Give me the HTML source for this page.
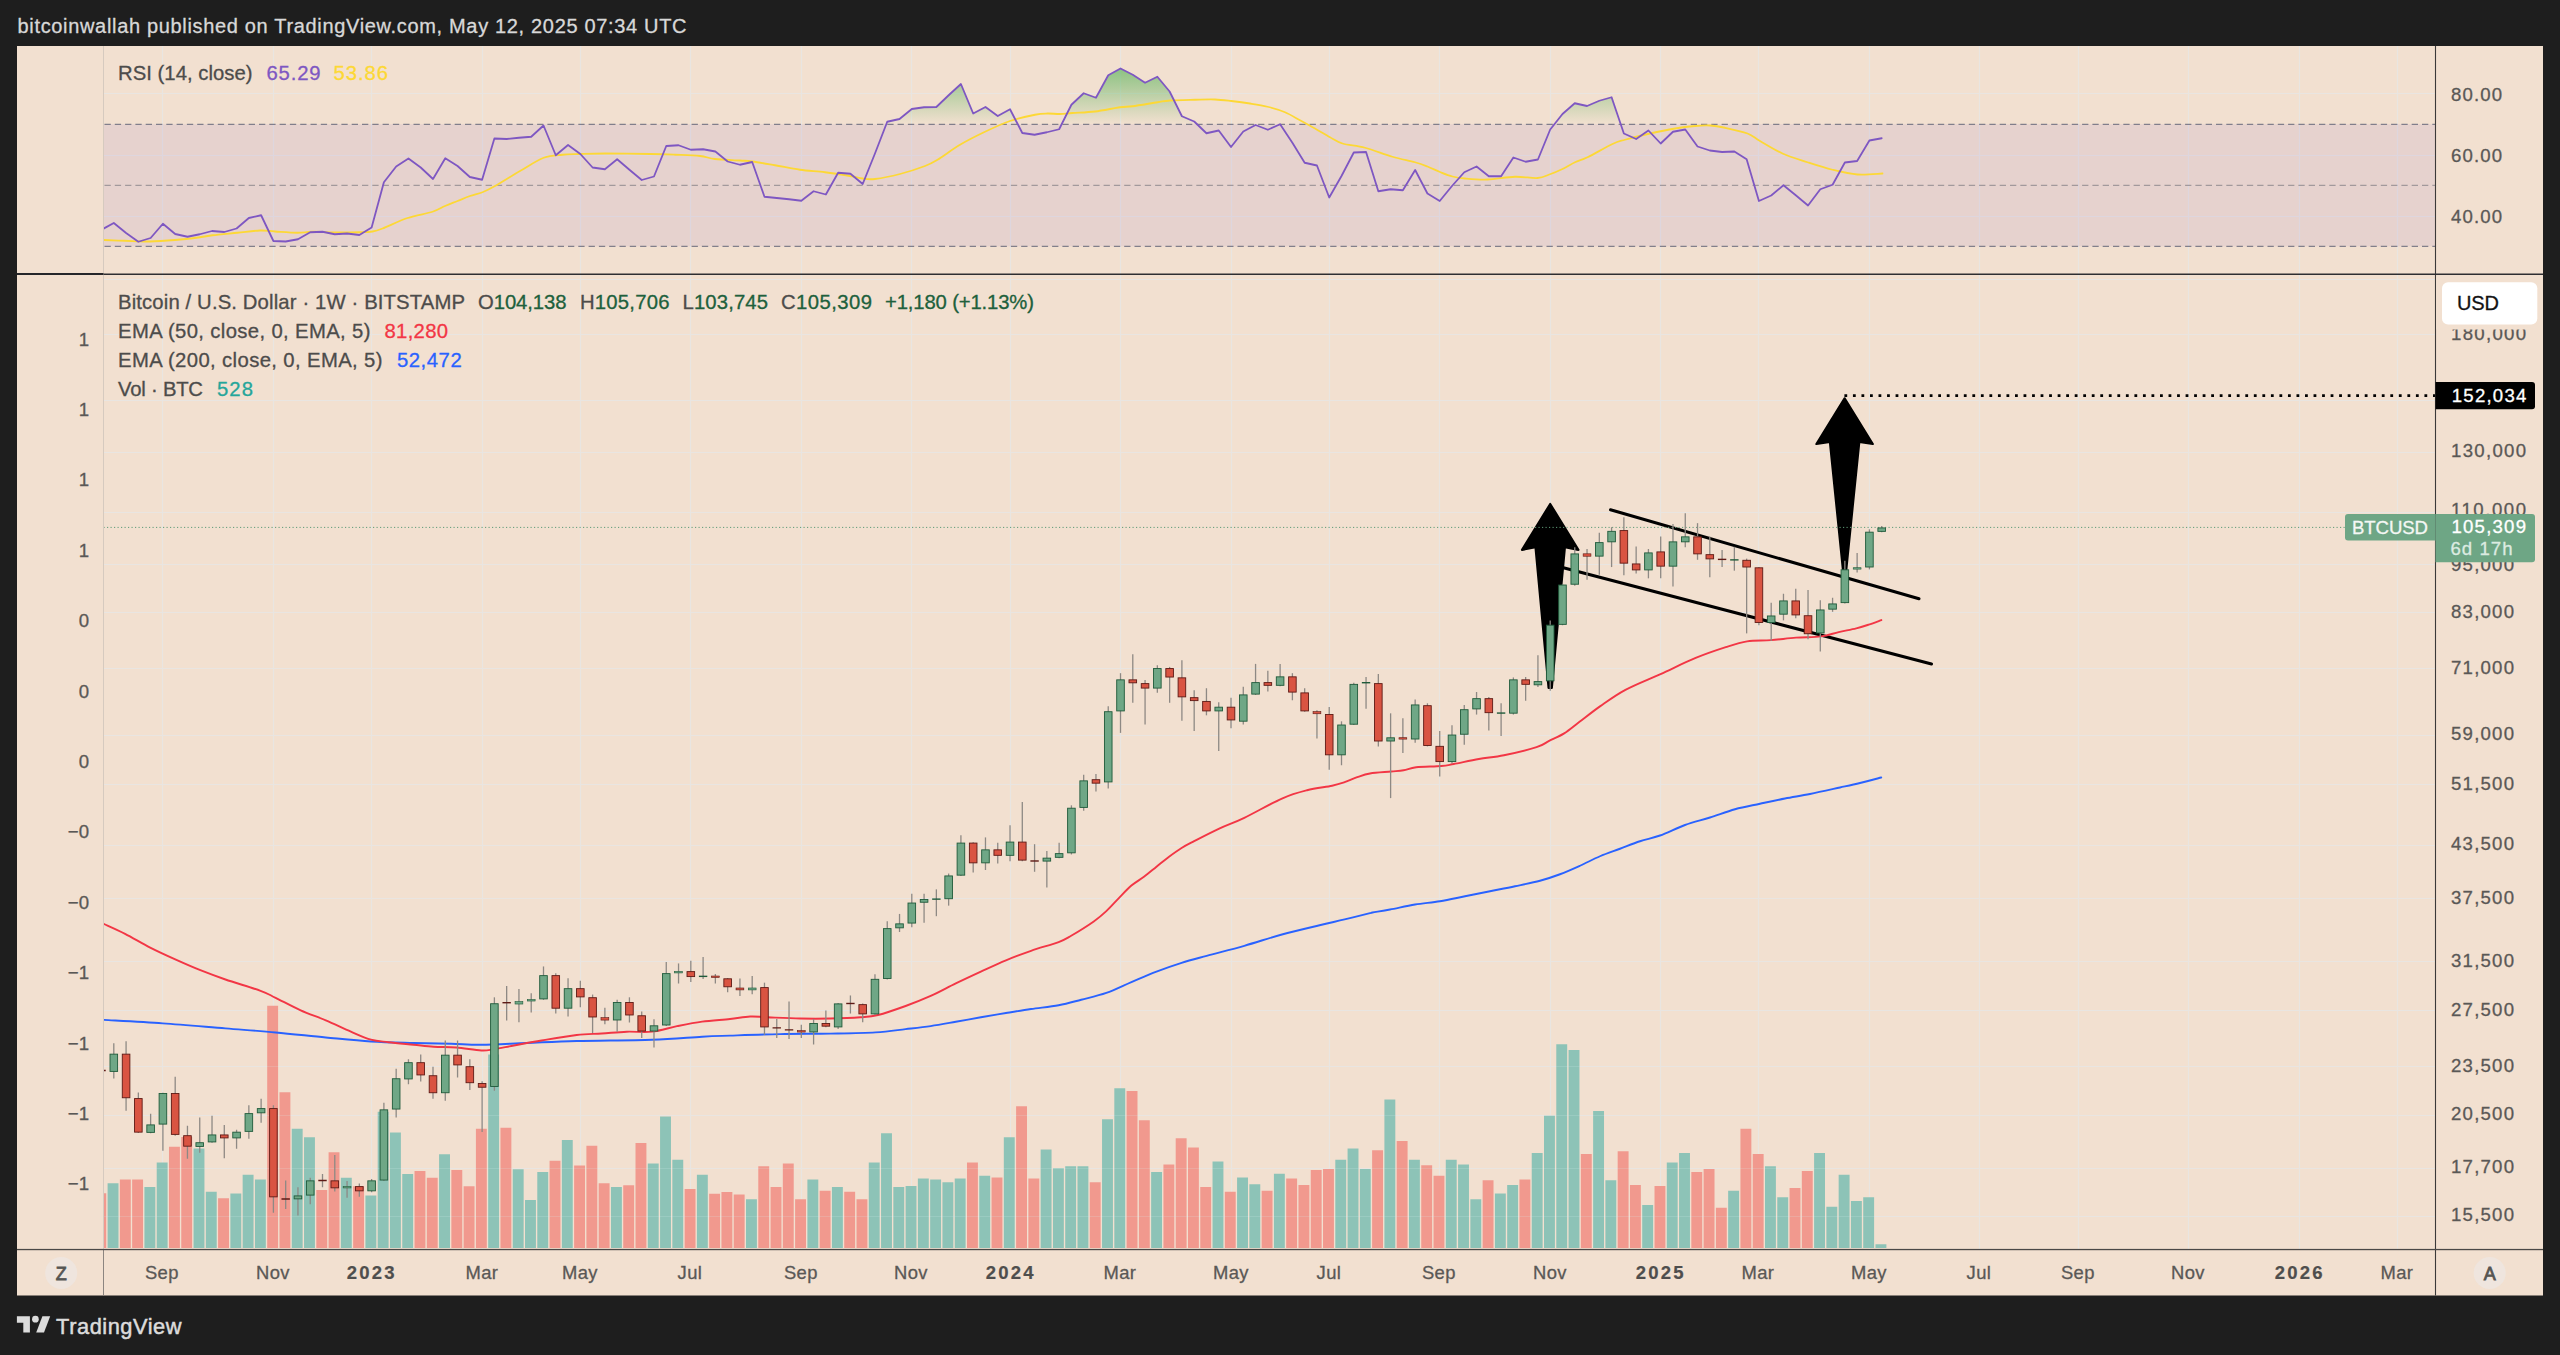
<!DOCTYPE html><html><head><meta charset="utf-8"><title>BTCUSD chart</title><style>html,body{margin:0;padding:0;background:#1e1e1e;overflow:hidden}svg{display:block}</style></head><body><svg width="2560" height="1355" viewBox="0 0 2560 1355"><rect x="0" y="0" width="2560" height="1355" fill="#1e1e1e"/>
<rect x="17" y="46" width="2526" height="1249.5" fill="#f2e0d0"/>
<g stroke="#e9e5e1" stroke-width="1.2" fill="none">
<path d="M162.5 46 V1249.5"/>
<path d="M273.5 46 V1249.5"/>
<path d="M371.5 46 V1249.5"/>
<path d="M482.5 46 V1249.5"/>
<path d="M580.5 46 V1249.5"/>
<path d="M690.5 46 V1249.5"/>
<path d="M801.5 46 V1249.5"/>
<path d="M911.5 46 V1249.5"/>
<path d="M1010.5 46 V1249.5"/>
<path d="M1120.5 46 V1249.5"/>
<path d="M1231.5 46 V1249.5"/>
<path d="M1329.5 46 V1249.5"/>
<path d="M1439.5 46 V1249.5"/>
<path d="M1550.5 46 V1249.5"/>
<path d="M1660.5 46 V1249.5"/>
<path d="M1758.5 46 V1249.5"/>
<path d="M1869.5 46 V1249.5"/>
<path d="M1979.5 46 V1249.5"/>
<path d="M2078.5 46 V1249.5"/>
<path d="M2188.5 46 V1249.5"/>
<path d="M2299.5 46 V1249.5"/>
<path d="M2397.5 46 V1249.5"/>
<path d="M103.5 93.5 H2435.5"/>
<path d="M103.5 155.5 H2435.5"/>
<path d="M103.5 216.5 H2435.5"/>
<path d="M103.5 279.5 H2435.5"/>
<path d="M103.5 334.5 H2435.5"/>
<path d="M103.5 400.5 H2435.5"/>
<path d="M103.5 452.5 H2435.5"/>
<path d="M103.5 512.5 H2435.5"/>
<path d="M103.5 564.5 H2435.5"/>
<path d="M103.5 612.5 H2435.5"/>
<path d="M103.5 668.5 H2435.5"/>
<path d="M103.5 735.5 H2435.5"/>
<path d="M103.5 784.5 H2435.5"/>
<path d="M103.5 845.5 H2435.5"/>
<path d="M103.5 898.5 H2435.5"/>
<path d="M103.5 961.5 H2435.5"/>
<path d="M103.5 1010.5 H2435.5"/>
<path d="M103.5 1066.5 H2435.5"/>
<path d="M103.5 1115.5 H2435.5"/>
<path d="M103.5 1168.5 H2435.5"/>
<path d="M103.5 1216.5 H2435.5"/>
</g>
<rect x="103.5" y="124.3" width="2332" height="122" fill="rgba(126,87,194,0.10)"/>
<defs><linearGradient id="ob" gradientUnits="userSpaceOnUse" x1="0" y1="56" x2="0" y2="124.3"><stop offset="0" stop-color="#4caf50" stop-opacity="0.75"/><stop offset="1" stop-color="#4caf50" stop-opacity="0"/></linearGradient>
<clipPath id="cob"><rect x="103.5" y="46" width="2332" height="78.3"/></clipPath>
<clipPath id="cpr"><rect x="104" y="46" width="2331" height="228.2"/></clipPath>
<clipPath id="cpm"><rect x="104" y="274.2" width="2331" height="975.3"/></clipPath></defs>
<path d="M101.52 124.3 L101.52 229.75 L113.8 223 L126.08 233 L138.35 241.75 L150.63 238 L162.91 223.75 L175.19 234 L187.46 236.75 L199.74 234.25 L212.02 231 L224.29 232 L236.57 228.5 L248.85 218 L261.12 215.25 L273.4 241 L285.68 241.5 L297.95 239.25 L310.23 232.25 L322.51 231.75 L334.79 234.25 L347.06 233.5 L359.34 235 L371.62 227.5 L383.89 182.25 L396.17 166.5 L408.45 158.5 L420.72 167.5 L433 179 L445.28 158.25 L457.56 166 L469.83 177 L482.11 179.75 L494.39 138.5 L506.66 139 L518.94 137.75 L531.22 136.75 L543.5 125.5 L555.77 155.25 L568.05 145 L580.33 154 L592.6 167.5 L604.88 169.25 L617.16 159.25 L629.43 169.75 L641.71 180 L653.99 176.5 L666.26 146 L678.54 145.25 L690.82 149.75 L703.1 149.25 L715.37 151.5 L727.65 161.5 L739.93 164.75 L752.2 162 L764.48 196.75 L776.76 198 L789.03 199.25 L801.31 200.75 L813.59 191.25 L825.87 194.5 L838.14 172.75 L850.42 173.75 L862.7 184 L874.97 153.5 L887.25 121.75 L899.53 119 L911.8 109 L924.08 107.25 L936.36 107 L948.64 95.25 L960.91 84 L973.19 113.5 L985.47 107 L997.74 116 L1010.02 109.25 L1022.3 133 L1034.58 134.75 L1046.85 132.25 L1059.13 129.25 L1071.41 104.75 L1083.68 93.25 L1095.96 97.75 L1108.24 75.25 L1120.51 68.5 L1132.79 74.75 L1145.07 82.75 L1157.34 76.75 L1169.62 91.5 L1181.9 116.25 L1194.18 121.5 L1206.45 133.25 L1218.73 130.5 L1231.01 147 L1243.28 131.5 L1255.56 125 L1267.84 129.75 L1280.11 124.25 L1292.39 142.75 L1304.67 162.75 L1316.95 165.5 L1329.22 197.5 L1341.5 176 L1353.78 152.5 L1366.05 152 L1378.33 191.25 L1390.61 189.25 L1402.88 190.25 L1415.16 170 L1427.44 193.5 L1439.72 201 L1451.99 186 L1464.27 172.25 L1476.55 166.5 L1488.82 176.25 L1501.1 176.25 L1513.38 157.5 L1525.65 161.75 L1537.93 159.5 L1550.21 129.5 L1562.49 114 L1574.76 103.25 L1587.04 106 L1599.32 100.75 L1611.59 97.25 L1623.87 133.5 L1636.15 139 L1648.42 130.5 L1660.7 143.5 L1672.98 131.75 L1685.26 129.5 L1697.53 146.5 L1709.81 150.5 L1722.09 152 L1734.36 151.5 L1746.64 159.25 L1758.92 201 L1771.19 195.5 L1783.47 185.25 L1795.75 195.25 L1808.03 205.5 L1820.3 189.25 L1832.58 184.75 L1844.86 162.5 L1857.13 161 L1869.41 140.5 L1881.69 138.25 L1881.69 124.3 Z" fill="url(#ob)" clip-path="url(#cob)"/>
<path d="M104.5 124.3 H2435.5" stroke="#67687a" stroke-width="1" stroke-dasharray="6.3 4" fill="none"/>
<path d="M104.5 185.3 H2435.5" stroke="#918b90" stroke-width="1" stroke-dasharray="6.3 4" fill="none"/>
<path d="M104.5 246.3 H2435.5" stroke="#67687a" stroke-width="1" stroke-dasharray="6.3 4" fill="none"/>
<g clip-path="url(#cpr)" fill="none" stroke-linejoin="round" stroke-linecap="round">
<path d="M103.5 240 C107.08 240.12 117.25 240.5 125 240.75 C132.75 241 141.67 241.62 150 241.5 C158.33 241.38 166.67 240.71 175 240 C183.33 239.29 193.75 238.04 200 237.25 C206.25 236.46 206.25 236 212.5 235.25 C218.75 234.5 229.58 233.54 237.5 232.75 C245.42 231.96 253.75 230.71 260 230.5 C266.25 230.29 268.75 231.12 275 231.5 C281.25 231.88 291.25 232.71 297.5 232.75 C303.75 232.79 305.83 231.79 312.5 231.75 C319.17 231.71 329.58 232.42 337.5 232.5 C345.42 232.58 354.17 232.42 360 232.25 C365.83 232.08 368.75 232.12 372.5 231.5 C376.25 230.88 376.67 230.75 382.5 228.5 C388.33 226.25 399.17 220.79 407.5 218 C415.83 215.21 426.25 213.75 432.5 211.75 C438.75 209.75 440.83 207.79 445 206 C449.17 204.21 453.33 202.67 457.5 201 C461.67 199.33 465.83 197.46 470 196 C474.17 194.54 478.33 193.92 482.5 192.25 C486.67 190.58 488.75 189.54 495 186 C501.25 182.46 511.88 175.71 520 171 C528.12 166.29 536.67 160.46 543.75 157.75 C550.83 155.04 556.46 155.38 562.5 154.75 C568.54 154.12 572.92 154.21 580 154 C587.08 153.79 593.33 153.5 605 153.5 C616.67 153.5 638.33 153.79 650 154 C661.67 154.21 666.67 154.42 675 154.75 C683.33 155.08 693.33 155.29 700 156 C706.67 156.71 708.33 158.25 715 159 C721.67 159.75 733.75 160.08 740 160.5 C746.25 160.92 746.67 160.71 752.5 161.5 C758.33 162.29 767.08 163.88 775 165.25 C782.92 166.62 791.67 168.58 800 169.75 C808.33 170.92 816.67 171.21 825 172.25 C833.33 173.29 843.75 174.96 850 176 C856.25 177.04 858.33 178 862.5 178.5 C866.67 179 868.75 179.75 875 179 C881.25 178.25 891.67 176.17 900 174 C908.33 171.83 918.75 168.38 925 166 C931.25 163.62 931.67 163.29 937.5 159.75 C943.33 156.21 952.08 149.42 960 144.75 C967.92 140.08 976.67 135.71 985 131.75 C993.33 127.79 1001.67 123.83 1010 121 C1018.33 118.17 1028.75 116 1035 114.75 C1041.25 113.5 1043.33 113.62 1047.5 113.5 C1051.67 113.38 1055.83 114.08 1060 114 C1064.17 113.92 1066.67 113.42 1072.5 113 C1078.33 112.58 1087.08 112.46 1095 111.5 C1102.92 110.54 1113.75 108.12 1120 107.25 C1126.25 106.38 1126.25 107.08 1132.5 106.25 C1138.75 105.42 1151.25 103.21 1157.5 102.25 C1163.75 101.29 1163.75 100.92 1170 100.5 C1176.25 100.08 1187.5 99.92 1195 99.75 C1202.5 99.58 1208.96 99.29 1215 99.5 C1221.04 99.71 1225.42 100.33 1231.25 101 C1237.08 101.67 1243.96 102.54 1250 103.5 C1256.04 104.46 1261.67 105.29 1267.5 106.75 C1273.33 108.21 1279.58 110 1285 112.25 C1290.42 114.5 1295 117.54 1300 120.25 C1305 122.96 1310 125.67 1315 128.5 C1320 131.33 1325.42 134.75 1330 137.25 C1334.58 139.75 1336.67 141.75 1342.5 143.5 C1348.33 145.25 1356.67 145.54 1365 147.75 C1373.33 149.96 1384.17 154.33 1392.5 156.75 C1400.83 159.17 1409.17 160.62 1415 162.25 C1420.83 163.88 1423.33 164.88 1427.5 166.5 C1431.67 168.12 1435.83 170.33 1440 172 C1444.17 173.67 1448.33 175.42 1452.5 176.5 C1456.67 177.58 1459.17 178 1465 178.5 C1470.83 179 1479.17 179.79 1487.5 179.5 C1495.83 179.21 1506.67 177 1515 176.75 C1523.33 176.5 1531.67 178.42 1537.5 178 C1543.33 177.58 1545.83 175.75 1550 174.25 C1554.17 172.75 1558.33 171 1562.5 169 C1566.67 167 1570.83 164.21 1575 162.25 C1579.17 160.29 1581.25 160.29 1587.5 157.25 C1593.75 154.21 1606.25 146.92 1612.5 144 C1618.75 141.08 1618.75 141.5 1625 139.75 C1631.25 138 1641.67 135.38 1650 133.5 C1658.33 131.62 1667.5 129.75 1675 128.5 C1682.5 127.25 1689.17 126.5 1695 126 C1700.83 125.5 1705 125.21 1710 125.5 C1715 125.79 1718.75 126.42 1725 127.75 C1731.25 129.08 1741.67 131.29 1747.5 133.5 C1753.33 135.71 1754.17 137.67 1760 141 C1765.83 144.33 1774.58 149.96 1782.5 153.5 C1790.42 157.04 1799.17 159.54 1807.5 162.25 C1815.83 164.96 1824.17 167.71 1832.5 169.75 C1840.83 171.79 1849.17 173.88 1857.5 174.5 C1865.83 175.12 1878.33 173.67 1882.5 173.5" stroke="#fdd835" stroke-width="1.8"/>
<path d="M101.52 229.75 L113.8 223 L126.08 233 L138.35 241.75 L150.63 238 L162.91 223.75 L175.19 234 L187.46 236.75 L199.74 234.25 L212.02 231 L224.29 232 L236.57 228.5 L248.85 218 L261.12 215.25 L273.4 241 L285.68 241.5 L297.95 239.25 L310.23 232.25 L322.51 231.75 L334.79 234.25 L347.06 233.5 L359.34 235 L371.62 227.5 L383.89 182.25 L396.17 166.5 L408.45 158.5 L420.72 167.5 L433 179 L445.28 158.25 L457.56 166 L469.83 177 L482.11 179.75 L494.39 138.5 L506.66 139 L518.94 137.75 L531.22 136.75 L543.5 125.5 L555.77 155.25 L568.05 145 L580.33 154 L592.6 167.5 L604.88 169.25 L617.16 159.25 L629.43 169.75 L641.71 180 L653.99 176.5 L666.26 146 L678.54 145.25 L690.82 149.75 L703.1 149.25 L715.37 151.5 L727.65 161.5 L739.93 164.75 L752.2 162 L764.48 196.75 L776.76 198 L789.03 199.25 L801.31 200.75 L813.59 191.25 L825.87 194.5 L838.14 172.75 L850.42 173.75 L862.7 184 L874.97 153.5 L887.25 121.75 L899.53 119 L911.8 109 L924.08 107.25 L936.36 107 L948.64 95.25 L960.91 84 L973.19 113.5 L985.47 107 L997.74 116 L1010.02 109.25 L1022.3 133 L1034.58 134.75 L1046.85 132.25 L1059.13 129.25 L1071.41 104.75 L1083.68 93.25 L1095.96 97.75 L1108.24 75.25 L1120.51 68.5 L1132.79 74.75 L1145.07 82.75 L1157.34 76.75 L1169.62 91.5 L1181.9 116.25 L1194.18 121.5 L1206.45 133.25 L1218.73 130.5 L1231.01 147 L1243.28 131.5 L1255.56 125 L1267.84 129.75 L1280.11 124.25 L1292.39 142.75 L1304.67 162.75 L1316.95 165.5 L1329.22 197.5 L1341.5 176 L1353.78 152.5 L1366.05 152 L1378.33 191.25 L1390.61 189.25 L1402.88 190.25 L1415.16 170 L1427.44 193.5 L1439.72 201 L1451.99 186 L1464.27 172.25 L1476.55 166.5 L1488.82 176.25 L1501.1 176.25 L1513.38 157.5 L1525.65 161.75 L1537.93 159.5 L1550.21 129.5 L1562.49 114 L1574.76 103.25 L1587.04 106 L1599.32 100.75 L1611.59 97.25 L1623.87 133.5 L1636.15 139 L1648.42 130.5 L1660.7 143.5 L1672.98 131.75 L1685.26 129.5 L1697.53 146.5 L1709.81 150.5 L1722.09 152 L1734.36 151.5 L1746.64 159.25 L1758.92 201 L1771.19 195.5 L1783.47 185.25 L1795.75 195.25 L1808.03 205.5 L1820.3 189.25 L1832.58 184.75 L1844.86 162.5 L1857.13 161 L1869.41 140.5 L1881.69 138.25" stroke="#7e57c2" stroke-width="1.8"/>
</g>
<g clip-path="url(#cpm)">
<rect x="95.32" y="1193.25" width="10.9" height="54.75" fill="#f1998e"/>
<rect x="107.6" y="1183.25" width="10.9" height="64.75" fill="#8dc3b7"/>
<rect x="119.88" y="1179.5" width="10.9" height="68.5" fill="#f1998e"/>
<rect x="132.15" y="1179.5" width="10.9" height="68.5" fill="#f1998e"/>
<rect x="144.43" y="1187" width="10.9" height="61" fill="#8dc3b7"/>
<rect x="156.71" y="1162.5" width="10.9" height="85.5" fill="#8dc3b7"/>
<rect x="168.99" y="1146.75" width="10.9" height="101.25" fill="#f1998e"/>
<rect x="181.26" y="1137" width="10.9" height="111" fill="#f1998e"/>
<rect x="193.54" y="1148.5" width="10.9" height="99.5" fill="#8dc3b7"/>
<rect x="205.82" y="1191.75" width="10.9" height="56.25" fill="#8dc3b7"/>
<rect x="218.09" y="1198.25" width="10.9" height="49.75" fill="#f1998e"/>
<rect x="230.37" y="1193.5" width="10.9" height="54.5" fill="#8dc3b7"/>
<rect x="242.65" y="1174.75" width="10.9" height="73.25" fill="#8dc3b7"/>
<rect x="254.92" y="1179.5" width="10.9" height="68.5" fill="#8dc3b7"/>
<rect x="267.2" y="1005.75" width="10.9" height="242.25" fill="#f1998e"/>
<rect x="279.48" y="1092.25" width="10.9" height="155.75" fill="#f1998e"/>
<rect x="291.75" y="1128.75" width="10.9" height="119.25" fill="#8dc3b7"/>
<rect x="304.03" y="1137.25" width="10.9" height="110.75" fill="#8dc3b7"/>
<rect x="316.31" y="1190" width="10.9" height="58" fill="#f1998e"/>
<rect x="328.59" y="1152.25" width="10.9" height="95.75" fill="#f1998e"/>
<rect x="340.86" y="1177.75" width="10.9" height="70.25" fill="#8dc3b7"/>
<rect x="353.14" y="1186.25" width="10.9" height="61.75" fill="#f1998e"/>
<rect x="365.42" y="1195.5" width="10.9" height="52.5" fill="#8dc3b7"/>
<rect x="377.69" y="1111.75" width="10.9" height="136.25" fill="#8dc3b7"/>
<rect x="389.97" y="1132.5" width="10.9" height="115.5" fill="#8dc3b7"/>
<rect x="402.25" y="1174" width="10.9" height="74" fill="#8dc3b7"/>
<rect x="414.52" y="1171" width="10.9" height="77" fill="#f1998e"/>
<rect x="426.8" y="1177.75" width="10.9" height="70.25" fill="#f1998e"/>
<rect x="439.08" y="1154.25" width="10.9" height="93.75" fill="#8dc3b7"/>
<rect x="451.36" y="1170" width="10.9" height="78" fill="#f1998e"/>
<rect x="463.63" y="1186.25" width="10.9" height="61.75" fill="#f1998e"/>
<rect x="475.91" y="1128.75" width="10.9" height="119.25" fill="#f1998e"/>
<rect x="488.19" y="1054.5" width="10.9" height="193.5" fill="#8dc3b7"/>
<rect x="500.46" y="1127.75" width="10.9" height="120.25" fill="#f1998e"/>
<rect x="512.74" y="1169.25" width="10.9" height="78.75" fill="#8dc3b7"/>
<rect x="525.02" y="1200" width="10.9" height="48" fill="#8dc3b7"/>
<rect x="537.29" y="1172" width="10.9" height="76" fill="#8dc3b7"/>
<rect x="549.57" y="1160.75" width="10.9" height="87.25" fill="#f1998e"/>
<rect x="561.85" y="1140" width="10.9" height="108" fill="#8dc3b7"/>
<rect x="574.13" y="1165.5" width="10.9" height="82.5" fill="#f1998e"/>
<rect x="586.4" y="1145.75" width="10.9" height="102.25" fill="#f1998e"/>
<rect x="598.68" y="1183.25" width="10.9" height="64.75" fill="#f1998e"/>
<rect x="610.96" y="1187" width="10.9" height="61" fill="#8dc3b7"/>
<rect x="623.23" y="1185.25" width="10.9" height="62.75" fill="#f1998e"/>
<rect x="635.51" y="1143" width="10.9" height="105" fill="#f1998e"/>
<rect x="647.79" y="1163.5" width="10.9" height="84.5" fill="#8dc3b7"/>
<rect x="660.06" y="1116.5" width="10.9" height="131.5" fill="#8dc3b7"/>
<rect x="672.34" y="1159.75" width="10.9" height="88.25" fill="#8dc3b7"/>
<rect x="684.62" y="1189" width="10.9" height="59" fill="#f1998e"/>
<rect x="696.9" y="1174.75" width="10.9" height="73.25" fill="#8dc3b7"/>
<rect x="709.17" y="1193.75" width="10.9" height="54.25" fill="#f1998e"/>
<rect x="721.45" y="1192" width="10.9" height="56" fill="#f1998e"/>
<rect x="733.73" y="1194.5" width="10.9" height="53.5" fill="#f1998e"/>
<rect x="746" y="1199.25" width="10.9" height="48.75" fill="#8dc3b7"/>
<rect x="758.28" y="1166.25" width="10.9" height="81.75" fill="#f1998e"/>
<rect x="770.56" y="1187" width="10.9" height="61" fill="#f1998e"/>
<rect x="782.83" y="1163.5" width="10.9" height="84.5" fill="#f1998e"/>
<rect x="795.11" y="1199.25" width="10.9" height="48.75" fill="#f1998e"/>
<rect x="807.39" y="1179.5" width="10.9" height="68.5" fill="#8dc3b7"/>
<rect x="819.67" y="1190.75" width="10.9" height="57.25" fill="#f1998e"/>
<rect x="831.94" y="1187" width="10.9" height="61" fill="#8dc3b7"/>
<rect x="844.22" y="1191.75" width="10.9" height="56.25" fill="#f1998e"/>
<rect x="856.5" y="1199.25" width="10.9" height="48.75" fill="#f1998e"/>
<rect x="868.77" y="1162.5" width="10.9" height="85.5" fill="#8dc3b7"/>
<rect x="881.05" y="1133.25" width="10.9" height="114.75" fill="#8dc3b7"/>
<rect x="893.33" y="1187" width="10.9" height="61" fill="#8dc3b7"/>
<rect x="905.6" y="1186" width="10.9" height="62" fill="#8dc3b7"/>
<rect x="917.88" y="1178.5" width="10.9" height="69.5" fill="#8dc3b7"/>
<rect x="930.16" y="1179.5" width="10.9" height="68.5" fill="#8dc3b7"/>
<rect x="942.44" y="1182.25" width="10.9" height="65.75" fill="#8dc3b7"/>
<rect x="954.71" y="1178.5" width="10.9" height="69.5" fill="#8dc3b7"/>
<rect x="966.99" y="1162.5" width="10.9" height="85.5" fill="#f1998e"/>
<rect x="979.27" y="1175.75" width="10.9" height="72.25" fill="#8dc3b7"/>
<rect x="991.54" y="1177.5" width="10.9" height="70.5" fill="#f1998e"/>
<rect x="1003.82" y="1137.25" width="10.9" height="110.75" fill="#8dc3b7"/>
<rect x="1016.1" y="1106.25" width="10.9" height="141.75" fill="#f1998e"/>
<rect x="1028.38" y="1178.5" width="10.9" height="69.5" fill="#f1998e"/>
<rect x="1040.65" y="1149.5" width="10.9" height="98.5" fill="#8dc3b7"/>
<rect x="1052.93" y="1168.25" width="10.9" height="79.75" fill="#8dc3b7"/>
<rect x="1065.21" y="1166.25" width="10.9" height="81.75" fill="#8dc3b7"/>
<rect x="1077.48" y="1166.25" width="10.9" height="81.75" fill="#8dc3b7"/>
<rect x="1089.76" y="1182.25" width="10.9" height="65.75" fill="#f1998e"/>
<rect x="1102.04" y="1119.25" width="10.9" height="128.75" fill="#8dc3b7"/>
<rect x="1114.31" y="1088.25" width="10.9" height="159.75" fill="#8dc3b7"/>
<rect x="1126.59" y="1091" width="10.9" height="157" fill="#f1998e"/>
<rect x="1138.87" y="1120.25" width="10.9" height="127.75" fill="#f1998e"/>
<rect x="1151.14" y="1172" width="10.9" height="76" fill="#8dc3b7"/>
<rect x="1163.42" y="1164.5" width="10.9" height="83.5" fill="#f1998e"/>
<rect x="1175.7" y="1138.25" width="10.9" height="109.75" fill="#f1998e"/>
<rect x="1187.98" y="1147.5" width="10.9" height="100.5" fill="#f1998e"/>
<rect x="1200.25" y="1187" width="10.9" height="61" fill="#f1998e"/>
<rect x="1212.53" y="1161.5" width="10.9" height="86.5" fill="#8dc3b7"/>
<rect x="1224.81" y="1191.75" width="10.9" height="56.25" fill="#f1998e"/>
<rect x="1237.08" y="1177.5" width="10.9" height="70.5" fill="#8dc3b7"/>
<rect x="1249.36" y="1184.25" width="10.9" height="63.75" fill="#8dc3b7"/>
<rect x="1261.64" y="1190.75" width="10.9" height="57.25" fill="#f1998e"/>
<rect x="1273.91" y="1173.75" width="10.9" height="74.25" fill="#8dc3b7"/>
<rect x="1286.19" y="1178.5" width="10.9" height="69.5" fill="#f1998e"/>
<rect x="1298.47" y="1185" width="10.9" height="63" fill="#f1998e"/>
<rect x="1310.75" y="1170" width="10.9" height="78" fill="#f1998e"/>
<rect x="1323.02" y="1169" width="10.9" height="79" fill="#f1998e"/>
<rect x="1335.3" y="1159.75" width="10.9" height="88.25" fill="#8dc3b7"/>
<rect x="1347.58" y="1148.5" width="10.9" height="99.5" fill="#8dc3b7"/>
<rect x="1359.85" y="1169" width="10.9" height="79" fill="#8dc3b7"/>
<rect x="1372.13" y="1150.25" width="10.9" height="97.75" fill="#f1998e"/>
<rect x="1384.41" y="1099.5" width="10.9" height="148.5" fill="#8dc3b7"/>
<rect x="1396.68" y="1141" width="10.9" height="107" fill="#f1998e"/>
<rect x="1408.96" y="1159.75" width="10.9" height="88.25" fill="#8dc3b7"/>
<rect x="1421.24" y="1165.25" width="10.9" height="82.75" fill="#f1998e"/>
<rect x="1433.52" y="1175.75" width="10.9" height="72.25" fill="#f1998e"/>
<rect x="1445.79" y="1159.75" width="10.9" height="88.25" fill="#8dc3b7"/>
<rect x="1458.07" y="1164.5" width="10.9" height="83.5" fill="#8dc3b7"/>
<rect x="1470.35" y="1199.25" width="10.9" height="48.75" fill="#8dc3b7"/>
<rect x="1482.62" y="1180.25" width="10.9" height="67.75" fill="#f1998e"/>
<rect x="1494.9" y="1193.5" width="10.9" height="54.5" fill="#8dc3b7"/>
<rect x="1507.18" y="1185" width="10.9" height="63" fill="#8dc3b7"/>
<rect x="1519.45" y="1179.5" width="10.9" height="68.5" fill="#f1998e"/>
<rect x="1531.73" y="1153" width="10.9" height="95" fill="#8dc3b7"/>
<rect x="1544.01" y="1115.75" width="10.9" height="132.25" fill="#8dc3b7"/>
<rect x="1556.29" y="1044.25" width="10.9" height="203.75" fill="#8dc3b7"/>
<rect x="1568.56" y="1050" width="10.9" height="198" fill="#8dc3b7"/>
<rect x="1580.84" y="1154" width="10.9" height="94" fill="#f1998e"/>
<rect x="1593.12" y="1111" width="10.9" height="137" fill="#8dc3b7"/>
<rect x="1605.39" y="1180.25" width="10.9" height="67.75" fill="#8dc3b7"/>
<rect x="1617.67" y="1151.25" width="10.9" height="96.75" fill="#f1998e"/>
<rect x="1629.95" y="1185" width="10.9" height="63" fill="#f1998e"/>
<rect x="1642.22" y="1205" width="10.9" height="43" fill="#8dc3b7"/>
<rect x="1654.5" y="1186" width="10.9" height="62" fill="#f1998e"/>
<rect x="1666.78" y="1162.5" width="10.9" height="85.5" fill="#8dc3b7"/>
<rect x="1679.06" y="1153" width="10.9" height="95" fill="#8dc3b7"/>
<rect x="1691.33" y="1172" width="10.9" height="76" fill="#f1998e"/>
<rect x="1703.61" y="1169" width="10.9" height="79" fill="#f1998e"/>
<rect x="1715.89" y="1207.75" width="10.9" height="40.25" fill="#f1998e"/>
<rect x="1728.16" y="1190.75" width="10.9" height="57.25" fill="#8dc3b7"/>
<rect x="1740.44" y="1128.75" width="10.9" height="119.25" fill="#f1998e"/>
<rect x="1752.72" y="1154" width="10.9" height="94" fill="#f1998e"/>
<rect x="1764.99" y="1166.25" width="10.9" height="81.75" fill="#8dc3b7"/>
<rect x="1777.27" y="1197.25" width="10.9" height="50.75" fill="#8dc3b7"/>
<rect x="1789.55" y="1188" width="10.9" height="60" fill="#f1998e"/>
<rect x="1801.83" y="1171" width="10.9" height="77" fill="#f1998e"/>
<rect x="1814.1" y="1153" width="10.9" height="95" fill="#8dc3b7"/>
<rect x="1826.38" y="1206.75" width="10.9" height="41.25" fill="#8dc3b7"/>
<rect x="1838.66" y="1174.75" width="10.9" height="73.25" fill="#8dc3b7"/>
<rect x="1850.93" y="1201" width="10.9" height="47" fill="#8dc3b7"/>
<rect x="1863.21" y="1197.25" width="10.9" height="50.75" fill="#8dc3b7"/>
<rect x="1875.49" y="1244.25" width="10.9" height="3.75" fill="#8dc3b7"/>
<clipPath id="cv">
<rect x="95.32" y="1193.25" width="10.9" height="54.75"/>
<rect x="107.6" y="1183.25" width="10.9" height="64.75"/>
<rect x="119.88" y="1179.5" width="10.9" height="68.5"/>
<rect x="132.15" y="1179.5" width="10.9" height="68.5"/>
<rect x="144.43" y="1187" width="10.9" height="61"/>
<rect x="156.71" y="1162.5" width="10.9" height="85.5"/>
<rect x="168.99" y="1146.75" width="10.9" height="101.25"/>
<rect x="181.26" y="1137" width="10.9" height="111"/>
<rect x="193.54" y="1148.5" width="10.9" height="99.5"/>
<rect x="205.82" y="1191.75" width="10.9" height="56.25"/>
<rect x="218.09" y="1198.25" width="10.9" height="49.75"/>
<rect x="230.37" y="1193.5" width="10.9" height="54.5"/>
<rect x="242.65" y="1174.75" width="10.9" height="73.25"/>
<rect x="254.92" y="1179.5" width="10.9" height="68.5"/>
<rect x="267.2" y="1005.75" width="10.9" height="242.25"/>
<rect x="279.48" y="1092.25" width="10.9" height="155.75"/>
<rect x="291.75" y="1128.75" width="10.9" height="119.25"/>
<rect x="304.03" y="1137.25" width="10.9" height="110.75"/>
<rect x="316.31" y="1190" width="10.9" height="58"/>
<rect x="328.59" y="1152.25" width="10.9" height="95.75"/>
<rect x="340.86" y="1177.75" width="10.9" height="70.25"/>
<rect x="353.14" y="1186.25" width="10.9" height="61.75"/>
<rect x="365.42" y="1195.5" width="10.9" height="52.5"/>
<rect x="377.69" y="1111.75" width="10.9" height="136.25"/>
<rect x="389.97" y="1132.5" width="10.9" height="115.5"/>
<rect x="402.25" y="1174" width="10.9" height="74"/>
<rect x="414.52" y="1171" width="10.9" height="77"/>
<rect x="426.8" y="1177.75" width="10.9" height="70.25"/>
<rect x="439.08" y="1154.25" width="10.9" height="93.75"/>
<rect x="451.36" y="1170" width="10.9" height="78"/>
<rect x="463.63" y="1186.25" width="10.9" height="61.75"/>
<rect x="475.91" y="1128.75" width="10.9" height="119.25"/>
<rect x="488.19" y="1054.5" width="10.9" height="193.5"/>
<rect x="500.46" y="1127.75" width="10.9" height="120.25"/>
<rect x="512.74" y="1169.25" width="10.9" height="78.75"/>
<rect x="525.02" y="1200" width="10.9" height="48"/>
<rect x="537.29" y="1172" width="10.9" height="76"/>
<rect x="549.57" y="1160.75" width="10.9" height="87.25"/>
<rect x="561.85" y="1140" width="10.9" height="108"/>
<rect x="574.13" y="1165.5" width="10.9" height="82.5"/>
<rect x="586.4" y="1145.75" width="10.9" height="102.25"/>
<rect x="598.68" y="1183.25" width="10.9" height="64.75"/>
<rect x="610.96" y="1187" width="10.9" height="61"/>
<rect x="623.23" y="1185.25" width="10.9" height="62.75"/>
<rect x="635.51" y="1143" width="10.9" height="105"/>
<rect x="647.79" y="1163.5" width="10.9" height="84.5"/>
<rect x="660.06" y="1116.5" width="10.9" height="131.5"/>
<rect x="672.34" y="1159.75" width="10.9" height="88.25"/>
<rect x="684.62" y="1189" width="10.9" height="59"/>
<rect x="696.9" y="1174.75" width="10.9" height="73.25"/>
<rect x="709.17" y="1193.75" width="10.9" height="54.25"/>
<rect x="721.45" y="1192" width="10.9" height="56"/>
<rect x="733.73" y="1194.5" width="10.9" height="53.5"/>
<rect x="746" y="1199.25" width="10.9" height="48.75"/>
<rect x="758.28" y="1166.25" width="10.9" height="81.75"/>
<rect x="770.56" y="1187" width="10.9" height="61"/>
<rect x="782.83" y="1163.5" width="10.9" height="84.5"/>
<rect x="795.11" y="1199.25" width="10.9" height="48.75"/>
<rect x="807.39" y="1179.5" width="10.9" height="68.5"/>
<rect x="819.67" y="1190.75" width="10.9" height="57.25"/>
<rect x="831.94" y="1187" width="10.9" height="61"/>
<rect x="844.22" y="1191.75" width="10.9" height="56.25"/>
<rect x="856.5" y="1199.25" width="10.9" height="48.75"/>
<rect x="868.77" y="1162.5" width="10.9" height="85.5"/>
<rect x="881.05" y="1133.25" width="10.9" height="114.75"/>
<rect x="893.33" y="1187" width="10.9" height="61"/>
<rect x="905.6" y="1186" width="10.9" height="62"/>
<rect x="917.88" y="1178.5" width="10.9" height="69.5"/>
<rect x="930.16" y="1179.5" width="10.9" height="68.5"/>
<rect x="942.44" y="1182.25" width="10.9" height="65.75"/>
<rect x="954.71" y="1178.5" width="10.9" height="69.5"/>
<rect x="966.99" y="1162.5" width="10.9" height="85.5"/>
<rect x="979.27" y="1175.75" width="10.9" height="72.25"/>
<rect x="991.54" y="1177.5" width="10.9" height="70.5"/>
<rect x="1003.82" y="1137.25" width="10.9" height="110.75"/>
<rect x="1016.1" y="1106.25" width="10.9" height="141.75"/>
<rect x="1028.38" y="1178.5" width="10.9" height="69.5"/>
<rect x="1040.65" y="1149.5" width="10.9" height="98.5"/>
<rect x="1052.93" y="1168.25" width="10.9" height="79.75"/>
<rect x="1065.21" y="1166.25" width="10.9" height="81.75"/>
<rect x="1077.48" y="1166.25" width="10.9" height="81.75"/>
<rect x="1089.76" y="1182.25" width="10.9" height="65.75"/>
<rect x="1102.04" y="1119.25" width="10.9" height="128.75"/>
<rect x="1114.31" y="1088.25" width="10.9" height="159.75"/>
<rect x="1126.59" y="1091" width="10.9" height="157"/>
<rect x="1138.87" y="1120.25" width="10.9" height="127.75"/>
<rect x="1151.14" y="1172" width="10.9" height="76"/>
<rect x="1163.42" y="1164.5" width="10.9" height="83.5"/>
<rect x="1175.7" y="1138.25" width="10.9" height="109.75"/>
<rect x="1187.98" y="1147.5" width="10.9" height="100.5"/>
<rect x="1200.25" y="1187" width="10.9" height="61"/>
<rect x="1212.53" y="1161.5" width="10.9" height="86.5"/>
<rect x="1224.81" y="1191.75" width="10.9" height="56.25"/>
<rect x="1237.08" y="1177.5" width="10.9" height="70.5"/>
<rect x="1249.36" y="1184.25" width="10.9" height="63.75"/>
<rect x="1261.64" y="1190.75" width="10.9" height="57.25"/>
<rect x="1273.91" y="1173.75" width="10.9" height="74.25"/>
<rect x="1286.19" y="1178.5" width="10.9" height="69.5"/>
<rect x="1298.47" y="1185" width="10.9" height="63"/>
<rect x="1310.75" y="1170" width="10.9" height="78"/>
<rect x="1323.02" y="1169" width="10.9" height="79"/>
<rect x="1335.3" y="1159.75" width="10.9" height="88.25"/>
<rect x="1347.58" y="1148.5" width="10.9" height="99.5"/>
<rect x="1359.85" y="1169" width="10.9" height="79"/>
<rect x="1372.13" y="1150.25" width="10.9" height="97.75"/>
<rect x="1384.41" y="1099.5" width="10.9" height="148.5"/>
<rect x="1396.68" y="1141" width="10.9" height="107"/>
<rect x="1408.96" y="1159.75" width="10.9" height="88.25"/>
<rect x="1421.24" y="1165.25" width="10.9" height="82.75"/>
<rect x="1433.52" y="1175.75" width="10.9" height="72.25"/>
<rect x="1445.79" y="1159.75" width="10.9" height="88.25"/>
<rect x="1458.07" y="1164.5" width="10.9" height="83.5"/>
<rect x="1470.35" y="1199.25" width="10.9" height="48.75"/>
<rect x="1482.62" y="1180.25" width="10.9" height="67.75"/>
<rect x="1494.9" y="1193.5" width="10.9" height="54.5"/>
<rect x="1507.18" y="1185" width="10.9" height="63"/>
<rect x="1519.45" y="1179.5" width="10.9" height="68.5"/>
<rect x="1531.73" y="1153" width="10.9" height="95"/>
<rect x="1544.01" y="1115.75" width="10.9" height="132.25"/>
<rect x="1556.29" y="1044.25" width="10.9" height="203.75"/>
<rect x="1568.56" y="1050" width="10.9" height="198"/>
<rect x="1580.84" y="1154" width="10.9" height="94"/>
<rect x="1593.12" y="1111" width="10.9" height="137"/>
<rect x="1605.39" y="1180.25" width="10.9" height="67.75"/>
<rect x="1617.67" y="1151.25" width="10.9" height="96.75"/>
<rect x="1629.95" y="1185" width="10.9" height="63"/>
<rect x="1642.22" y="1205" width="10.9" height="43"/>
<rect x="1654.5" y="1186" width="10.9" height="62"/>
<rect x="1666.78" y="1162.5" width="10.9" height="85.5"/>
<rect x="1679.06" y="1153" width="10.9" height="95"/>
<rect x="1691.33" y="1172" width="10.9" height="76"/>
<rect x="1703.61" y="1169" width="10.9" height="79"/>
<rect x="1715.89" y="1207.75" width="10.9" height="40.25"/>
<rect x="1728.16" y="1190.75" width="10.9" height="57.25"/>
<rect x="1740.44" y="1128.75" width="10.9" height="119.25"/>
<rect x="1752.72" y="1154" width="10.9" height="94"/>
<rect x="1764.99" y="1166.25" width="10.9" height="81.75"/>
<rect x="1777.27" y="1197.25" width="10.9" height="50.75"/>
<rect x="1789.55" y="1188" width="10.9" height="60"/>
<rect x="1801.83" y="1171" width="10.9" height="77"/>
<rect x="1814.1" y="1153" width="10.9" height="95"/>
<rect x="1826.38" y="1206.75" width="10.9" height="41.25"/>
<rect x="1838.66" y="1174.75" width="10.9" height="73.25"/>
<rect x="1850.93" y="1201" width="10.9" height="47"/>
<rect x="1863.21" y="1197.25" width="10.9" height="50.75"/>
<rect x="1875.49" y="1244.25" width="10.9" height="3.75"/>
</clipPath>
<g stroke="#d8f0f0" stroke-width="1" opacity="0.18" clip-path="url(#cv)">
<path d="M103.5 1066.5 H1887.69"/>
<path d="M103.5 1115.5 H1887.69"/>
<path d="M103.5 1168.5 H1887.69"/>
<path d="M103.5 1216.5 H1887.69"/>
</g>
<g stroke="#000" stroke-width="3" stroke-linecap="round" fill="none">
<path d="M1610.5 509.8 L1919 598.8"/>
<path d="M1560.5 567 L1931.5 664"/>
</g>
<path d="M1550.2 504 L1578.4 549.8 L1564.9 547.2 L1551.8 687.8 L1548.6 687.8 L1535.5 547.2 L1522 549.8 L1550.2 504 Z" fill="#000" stroke="#000" stroke-width="2.2" stroke-linejoin="round"/>
<path d="M1844.6 398.3 L1872.8 444 L1859.3 441.8 L1846.2 570.3 L1843 570.3 L1829.9 441.8 L1816.4 444 L1844.6 398.3 Z" fill="#000" stroke="#000" stroke-width="2.2" stroke-linejoin="round"/>
<path d="M1844.4 395.6 H2435.5" stroke="#000" stroke-width="2.8" stroke-dasharray="2.8 5.73" fill="none"/>
<g fill="none" stroke-linejoin="round" stroke-linecap="round">
<path d="M103.51 1019.88 C113.38 1020.47 142.4 1021.98 162.72 1023.4 C183.04 1024.82 206.62 1026.91 225.44 1028.41 C244.25 1029.92 258.89 1030.92 275.61 1032.43 C292.34 1033.93 309.9 1035.94 325.79 1037.45 C341.68 1038.95 356.31 1040.54 370.95 1041.46 C385.58 1042.38 400.22 1042.59 413.6 1042.97 C426.98 1043.34 439.94 1043.43 451.23 1043.72 C462.52 1044.01 468.79 1044.85 481.33 1044.72 C493.88 1044.6 510.6 1043.59 526.49 1042.97 C542.38 1042.34 555.76 1041.5 576.67 1040.96 C597.57 1040.41 631.03 1040.41 651.93 1039.7 C672.84 1038.99 689.1 1037.38 702.11 1036.69 C715.12 1036.01 716.99 1036.04 730 1035.6 C743.01 1035.17 763.45 1034.43 780.18 1034.1 C796.9 1033.76 814.46 1033.89 830.35 1033.6 C846.24 1033.3 862.97 1033.1 875.51 1032.34 C888.05 1031.59 896.42 1030.13 905.61 1029.08 C914.81 1028.04 922.34 1027.28 930.7 1026.07 C939.07 1024.86 947.43 1023.27 955.79 1021.81 C964.15 1020.34 972.52 1018.75 980.88 1017.29 C989.24 1015.83 997.6 1014.41 1005.97 1013.03 C1014.33 1011.65 1022.27 1010.31 1031.05 1009.01 C1039.83 1007.72 1050.29 1006.8 1058.65 1005.25 C1067.01 1003.7 1073.28 1001.78 1081.23 999.73 C1089.17 997.68 1097.95 995.88 1106.32 992.96 C1114.68 990.03 1123.04 985.72 1131.4 982.17 C1139.77 978.61 1148.13 974.85 1156.49 971.63 C1164.86 968.41 1173.22 965.48 1181.58 962.85 C1189.94 960.22 1196.22 958.67 1206.67 955.83 C1217.12 952.98 1231.76 949.34 1244.3 945.79 C1256.84 942.24 1269.39 937.93 1281.93 934.5 C1294.48 931.07 1309.11 927.73 1319.56 925.22 C1330.02 922.71 1336.25 921.46 1344.65 919.45 C1353.06 917.44 1365.35 914.33 1369.99 913.18 C1374.63 912.02 1369.16 913.11 1372.5 912.5 C1375.84 911.89 1382.92 910.83 1390 909.5 C1397.08 908.17 1406.67 905.88 1415 904.5 C1423.33 903.12 1431.67 902.62 1440 901.25 C1448.33 899.88 1456.67 897.92 1465 896.25 C1473.33 894.58 1481.67 892.92 1490 891.25 C1498.33 889.58 1506.67 888 1515 886.25 C1523.33 884.5 1532.5 882.75 1540 880.75 C1547.5 878.75 1553.33 876.75 1560 874.25 C1566.67 871.75 1573.33 868.75 1580 865.75 C1586.67 862.75 1593.33 859.08 1600 856.25 C1606.67 853.42 1613.33 851.25 1620 848.75 C1626.67 846.25 1633.33 843.46 1640 841.25 C1646.67 839.04 1652.5 838.21 1660 835.5 C1667.5 832.79 1676.67 828 1685 825 C1693.33 822 1701.67 820.12 1710 817.5 C1718.33 814.88 1726.67 811.54 1735 809.25 C1743.33 806.96 1751.67 805.54 1760 803.75 C1768.33 801.96 1776.67 800.12 1785 798.5 C1793.33 796.88 1800.83 795.83 1810 794 C1819.17 792.17 1831.67 789.33 1840 787.5 C1848.33 785.67 1853.12 784.67 1860 783 C1866.88 781.33 1877.71 778.42 1881.25 777.5" stroke="#2962ff" stroke-width="1.9"/>
<path d="M103.51 923.8 C107.11 925.47 117.31 929.86 125.09 933.83 C132.87 937.81 141.81 943.37 150.18 947.63 C158.54 951.9 166.9 955.66 175.26 959.42 C183.63 963.19 191.99 966.87 200.35 970.21 C208.71 973.56 215.4 976.06 225.44 979.49 C235.47 982.92 252.2 987.73 260.56 990.78 C268.92 993.84 268.92 994.55 275.61 997.81 C282.3 1001.07 292.34 1006.59 300.7 1010.35 C309.07 1014.11 317.43 1016.83 325.79 1020.39 C334.15 1023.94 343.35 1028.46 350.88 1031.68 C358.4 1034.9 364.68 1037.95 370.95 1039.7 C377.22 1041.46 381.4 1041.38 388.51 1042.21 C395.62 1043.05 406.07 1043.97 413.6 1044.72 C421.12 1045.47 426.56 1046.27 433.67 1046.73 C440.78 1047.19 448.3 1046.85 456.25 1047.48 C464.19 1048.11 475.06 1050.2 481.33 1050.49 C487.61 1050.78 488.44 1050.07 493.88 1049.24 C499.31 1048.4 506 1046.94 513.95 1045.47 C521.89 1044.01 531.09 1042.21 541.55 1040.46 C552 1038.7 566.63 1036.11 576.67 1034.94 C586.7 1033.77 593.39 1033.98 601.76 1033.43 C610.12 1032.89 618.48 1031.97 626.84 1031.68 C635.21 1031.38 643.57 1032.6 651.93 1031.68 C660.29 1030.76 668.66 1027.83 677.02 1026.16 C685.38 1024.48 693.28 1022.83 702.11 1021.64 C710.94 1020.46 722.01 1019.9 730 1019.05 C737.99 1018.2 743.8 1016.83 750.07 1016.54 C756.34 1016.25 759.27 1016.96 767.63 1017.29 C775.99 1017.63 789.79 1018.34 800.25 1018.54 C810.7 1018.75 820.32 1018.75 830.35 1018.54 C840.39 1018.34 852.51 1017.88 860.46 1017.29 C868.4 1016.71 870.49 1016.91 878.02 1015.03 C885.54 1013.15 896.83 1009.18 905.61 1006 C914.4 1002.82 922.34 999.73 930.7 995.97 C939.07 992.2 947.43 987.48 955.79 983.42 C964.15 979.37 972.52 975.48 980.88 971.63 C989.24 967.78 997.6 963.81 1005.97 960.34 C1014.33 956.87 1022.27 953.86 1031.05 950.81 C1039.83 947.76 1051.96 944.54 1058.65 942.03 C1065.34 939.52 1065.34 939.18 1071.19 935.76 C1077.05 932.33 1087.92 925.55 1093.77 921.46 C1099.63 917.36 1102.14 915.06 1106.32 911.17 C1110.5 907.28 1114.68 902.39 1118.86 898.12 C1123.04 893.86 1127.22 889.13 1131.4 885.58 C1135.59 882.03 1139.77 879.93 1143.95 876.8 C1148.13 873.66 1152.31 870.11 1156.49 866.76 C1160.67 863.42 1164.86 859.86 1169.04 856.73 C1173.22 853.59 1177.4 850.54 1181.58 847.95 C1185.76 845.36 1187.85 844.39 1194.12 841.17 C1200.4 837.95 1210.85 832.52 1219.21 828.63 C1227.57 824.74 1233.85 822.86 1244.3 817.84 C1254.75 812.82 1271.48 803.12 1281.93 798.52 C1292.39 793.93 1298.66 792.38 1307.02 790.25 C1315.38 788.11 1325.84 787.07 1332.11 785.73 C1338.38 784.39 1340.47 783.64 1344.65 782.22 C1348.83 780.8 1352.97 778.66 1357.2 777.2 C1361.42 775.74 1364.35 774.38 1369.99 773.44 C1375.63 772.49 1385.45 772.05 1391.05 771.52 C1396.65 770.99 1399.42 770.98 1403.6 770.27 C1407.78 769.56 1409.87 767.97 1416.14 767.26 C1422.41 766.54 1434.96 766.54 1441.23 766 C1447.5 765.46 1447.5 765.16 1453.77 763.99 C1460.05 762.82 1470.5 760.44 1478.86 758.98 C1487.22 757.51 1494.33 757.18 1503.95 755.21 C1513.57 753.25 1529.04 749.57 1536.56 747.19 C1544.09 744.8 1544.51 743.21 1549.11 740.91 C1553.71 738.61 1559.14 736.52 1564.16 733.39 C1569.18 730.25 1573.18 726.64 1579.21 722.1 C1585.24 717.56 1592.65 711.52 1600.35 706.14 C1608.06 700.76 1615.4 695.19 1625.44 689.83 C1635.47 684.48 1648.85 679.34 1660.56 674.03 C1672.27 668.72 1684.81 662.45 1695.68 657.97 C1706.56 653.5 1717.22 649.94 1725.79 647.19 C1734.36 644.43 1739.59 642.59 1747.11 641.41 C1754.64 640.24 1762.79 640.79 1770.95 640.16 C1779.1 639.53 1787.67 638.28 1796.04 637.65 C1804.4 637.02 1814.02 637.32 1821.12 636.4 C1828.23 635.48 1832.83 633.47 1838.69 632.13 C1844.54 630.79 1851.23 629.62 1856.25 628.37 C1861.26 627.11 1864.61 625.99 1868.79 624.61 C1872.97 623.23 1879.24 620.84 1881.33 620.09" stroke="#f23645" stroke-width="1.9"/>
</g>
<path d="M103.5 527.4 H2345" stroke="#5f9b78" stroke-width="1" stroke-dasharray="1.2 2.3" fill="none"/>
<path d="M101.52 1070.06 V1071.06" stroke="#8e8984" stroke-width="1.3" fill="none"/>
<path d="M97.32 1070.56 H105.72" stroke="#5e1a15" stroke-width="1.4" fill="none"/>
<path d="M113.8 1043.22 V1078.59" stroke="#8e8984" stroke-width="1.3" fill="none"/>
<rect x="110" y="1054.15" width="7.6" height="17.26" fill="#6fa786" stroke="#1f5a3a" stroke-width="0.9"/>
<path d="M126.08 1041.21 V1110.7" stroke="#8e8984" stroke-width="1.3" fill="none"/>
<rect x="122.28" y="1054.15" width="7.6" height="43.61" fill="#d95442" stroke="#5e1a15" stroke-width="0.9"/>
<path d="M138.35 1092.39 V1133.03" stroke="#8e8984" stroke-width="1.3" fill="none"/>
<rect x="134.55" y="1098.56" width="7.6" height="33.57" fill="#d95442" stroke="#5e1a15" stroke-width="0.9"/>
<path d="M150.63 1113.71 V1133.28" stroke="#8e8984" stroke-width="1.3" fill="none"/>
<rect x="146.83" y="1124.9" width="7.6" height="7.48" fill="#6fa786" stroke="#1f5a3a" stroke-width="0.9"/>
<path d="M162.91 1092.64 V1150.84" stroke="#8e8984" stroke-width="1.3" fill="none"/>
<rect x="159.11" y="1093.54" width="7.6" height="30.56" fill="#6fa786" stroke="#1f5a3a" stroke-width="0.9"/>
<path d="M175.19 1076.83 V1135.79" stroke="#8e8984" stroke-width="1.3" fill="none"/>
<rect x="171.38" y="1093.54" width="7.6" height="40.85" fill="#d95442" stroke="#5e1a15" stroke-width="0.9"/>
<path d="M187.46 1125.76 V1158.87" stroke="#8e8984" stroke-width="1.3" fill="none"/>
<rect x="183.66" y="1135.69" width="7.6" height="10.49" fill="#d95442" stroke="#5e1a15" stroke-width="0.9"/>
<path d="M199.74 1117.48 V1152.85" stroke="#8e8984" stroke-width="1.3" fill="none"/>
<rect x="195.94" y="1142.71" width="7.6" height="3.72" fill="#6fa786" stroke="#1f5a3a" stroke-width="0.9"/>
<path d="M212.02 1115.72 V1142.81" stroke="#8e8984" stroke-width="1.3" fill="none"/>
<rect x="208.22" y="1134.94" width="7.6" height="6.98" fill="#6fa786" stroke="#1f5a3a" stroke-width="0.9"/>
<path d="M224.29 1125 V1158.37" stroke="#8e8984" stroke-width="1.3" fill="none"/>
<rect x="220.49" y="1134.94" width="7.6" height="2.96" fill="#d95442" stroke="#5e1a15" stroke-width="0.9"/>
<path d="M236.57 1129.77 V1148.84" stroke="#8e8984" stroke-width="1.3" fill="none"/>
<rect x="232.77" y="1132.18" width="7.6" height="5.72" fill="#6fa786" stroke="#1f5a3a" stroke-width="0.9"/>
<path d="M248.85 1105.18 V1138.8" stroke="#8e8984" stroke-width="1.3" fill="none"/>
<rect x="245.05" y="1113.61" width="7.6" height="17.76" fill="#6fa786" stroke="#1f5a3a" stroke-width="0.9"/>
<path d="M261.12 1098.66 V1122.74" stroke="#8e8984" stroke-width="1.3" fill="none"/>
<rect x="257.32" y="1108.59" width="7.6" height="4.22" fill="#6fa786" stroke="#1f5a3a" stroke-width="0.9"/>
<path d="M273.4 1105.18 V1212.81" stroke="#8e8984" stroke-width="1.3" fill="none"/>
<rect x="269.6" y="1108.59" width="7.6" height="88.26" fill="#d95442" stroke="#5e1a15" stroke-width="0.9"/>
<path d="M285.68 1180.45 V1209.05" stroke="#8e8984" stroke-width="1.3" fill="none"/>
<path d="M281.48 1199.01 H289.88" stroke="#5e1a15" stroke-width="1.4" fill="none"/>
<path d="M297.95 1187.22 V1215.57" stroke="#8e8984" stroke-width="1.3" fill="none"/>
<rect x="294.15" y="1195.9" width="7.6" height="2.96" fill="#6fa786" stroke="#1f5a3a" stroke-width="0.9"/>
<path d="M310.23 1177.69 V1204.28" stroke="#8e8984" stroke-width="1.3" fill="none"/>
<rect x="306.43" y="1180.85" width="7.6" height="14.25" fill="#6fa786" stroke="#1f5a3a" stroke-width="0.9"/>
<path d="M322.51 1173.92 V1187.22" stroke="#8e8984" stroke-width="1.3" fill="none"/>
<path d="M318.31 1180.45 H326.71" stroke="#5e1a15" stroke-width="1.4" fill="none"/>
<path d="M334.79 1155.11 V1191.49" stroke="#8e8984" stroke-width="1.3" fill="none"/>
<rect x="330.99" y="1180.85" width="7.6" height="6.98" fill="#d95442" stroke="#5e1a15" stroke-width="0.9"/>
<path d="M347.06 1180.95 V1197.76" stroke="#8e8984" stroke-width="1.3" fill="none"/>
<rect x="343.16" y="1186.52" width="7.8" height="1.41" fill="#6fa786" stroke="#1f5a3a" stroke-width="0.6"/>
<path d="M359.34 1183.46 V1196.75" stroke="#8e8984" stroke-width="1.3" fill="none"/>
<rect x="355.54" y="1186.62" width="7.6" height="4.22" fill="#d95442" stroke="#5e1a15" stroke-width="0.9"/>
<path d="M371.62 1178.94 V1192.24" stroke="#8e8984" stroke-width="1.3" fill="none"/>
<rect x="367.82" y="1180.85" width="7.6" height="9.99" fill="#6fa786" stroke="#1f5a3a" stroke-width="0.9"/>
<path d="M383.89 1102.67 V1180.95" stroke="#8e8984" stroke-width="1.3" fill="none"/>
<rect x="380.09" y="1109.85" width="7.6" height="70.2" fill="#6fa786" stroke="#1f5a3a" stroke-width="0.9"/>
<path d="M396.17 1068.81 V1117.48" stroke="#8e8984" stroke-width="1.3" fill="none"/>
<rect x="392.37" y="1078.74" width="7.6" height="30.31" fill="#6fa786" stroke="#1f5a3a" stroke-width="0.9"/>
<path d="M408.45 1059.27 V1084.36" stroke="#8e8984" stroke-width="1.3" fill="none"/>
<rect x="404.65" y="1062.68" width="7.6" height="16.26" fill="#6fa786" stroke="#1f5a3a" stroke-width="0.9"/>
<path d="M420.72 1054.51 V1081.6" stroke="#8e8984" stroke-width="1.3" fill="none"/>
<rect x="416.92" y="1062.68" width="7.6" height="12.25" fill="#d95442" stroke="#5e1a15" stroke-width="0.9"/>
<path d="M433 1066.8 V1098.66" stroke="#8e8984" stroke-width="1.3" fill="none"/>
<rect x="429.2" y="1075.73" width="7.6" height="17.01" fill="#d95442" stroke="#5e1a15" stroke-width="0.9"/>
<path d="M445.28 1040.46 V1100.67" stroke="#8e8984" stroke-width="1.3" fill="none"/>
<rect x="441.48" y="1055.16" width="7.6" height="37.58" fill="#6fa786" stroke="#1f5a3a" stroke-width="0.9"/>
<path d="M457.56 1040.46 V1077.59" stroke="#8e8984" stroke-width="1.3" fill="none"/>
<rect x="453.76" y="1055.16" width="7.6" height="9.74" fill="#d95442" stroke="#5e1a15" stroke-width="0.9"/>
<path d="M469.83 1059.27 V1089.88" stroke="#8e8984" stroke-width="1.3" fill="none"/>
<rect x="466.03" y="1066.7" width="7.6" height="16.01" fill="#d95442" stroke="#5e1a15" stroke-width="0.9"/>
<path d="M482.11 1081.35 V1132.03" stroke="#8e8984" stroke-width="1.3" fill="none"/>
<rect x="478.31" y="1083.51" width="7.6" height="3.72" fill="#d95442" stroke="#5e1a15" stroke-width="0.9"/>
<path d="M494.39 997.31 V1090.63" stroke="#8e8984" stroke-width="1.3" fill="none"/>
<rect x="490.59" y="1003.73" width="7.6" height="82.74" fill="#6fa786" stroke="#1f5a3a" stroke-width="0.9"/>
<path d="M506.66 986.02 V1020.39" stroke="#8e8984" stroke-width="1.3" fill="none"/>
<path d="M502.46 1002.7 H510.86" stroke="#5e1a15" stroke-width="1.4" fill="none"/>
<path d="M518.94 989.03 V1022.14" stroke="#8e8984" stroke-width="1.3" fill="none"/>
<rect x="515.04" y="1001.62" width="7.8" height="2.41" fill="#6fa786" stroke="#1f5a3a" stroke-width="0.6"/>
<path d="M531.22 993.29 V1012.61" stroke="#8e8984" stroke-width="1.3" fill="none"/>
<rect x="527.32" y="999.61" width="7.8" height="1.41" fill="#6fa786" stroke="#1f5a3a" stroke-width="0.6"/>
<path d="M543.5 966.45 V999.81" stroke="#8e8984" stroke-width="1.3" fill="none"/>
<rect x="539.7" y="975.63" width="7.6" height="23.28" fill="#6fa786" stroke="#1f5a3a" stroke-width="0.9"/>
<path d="M555.77 973.22 V1013.61" stroke="#8e8984" stroke-width="1.3" fill="none"/>
<rect x="551.97" y="975.63" width="7.6" height="32.57" fill="#d95442" stroke="#5e1a15" stroke-width="0.9"/>
<path d="M568.05 978.24 V1016.62" stroke="#8e8984" stroke-width="1.3" fill="none"/>
<rect x="564.25" y="988.67" width="7.6" height="19.52" fill="#6fa786" stroke="#1f5a3a" stroke-width="0.9"/>
<path d="M580.33 980.75 V1007.34" stroke="#8e8984" stroke-width="1.3" fill="none"/>
<rect x="576.53" y="988.67" width="7.6" height="8.23" fill="#d95442" stroke="#5e1a15" stroke-width="0.9"/>
<path d="M592.6 994.55 V1032.93" stroke="#8e8984" stroke-width="1.3" fill="none"/>
<rect x="588.8" y="997.71" width="7.6" height="19.27" fill="#d95442" stroke="#5e1a15" stroke-width="0.9"/>
<path d="M604.88 1007.84 V1024.15" stroke="#8e8984" stroke-width="1.3" fill="none"/>
<rect x="600.98" y="1017.68" width="7.8" height="2.41" fill="#d95442" stroke="#5e1a15" stroke-width="0.6"/>
<path d="M617.16 999.81 V1031.68" stroke="#8e8984" stroke-width="1.3" fill="none"/>
<rect x="613.36" y="1002.47" width="7.6" height="17.51" fill="#6fa786" stroke="#1f5a3a" stroke-width="0.9"/>
<path d="M629.43 997.31 V1022.39" stroke="#8e8984" stroke-width="1.3" fill="none"/>
<rect x="625.63" y="1002.47" width="7.6" height="12.5" fill="#d95442" stroke="#5e1a15" stroke-width="0.9"/>
<path d="M641.71 1011.61 V1037.95" stroke="#8e8984" stroke-width="1.3" fill="none"/>
<rect x="637.91" y="1015.77" width="7.6" height="15.26" fill="#d95442" stroke="#5e1a15" stroke-width="0.9"/>
<path d="M653.99 1019.13 V1047.48" stroke="#8e8984" stroke-width="1.3" fill="none"/>
<rect x="650.19" y="1025.8" width="7.6" height="5.22" fill="#6fa786" stroke="#1f5a3a" stroke-width="0.9"/>
<path d="M666.26 961.93 V1025.91" stroke="#8e8984" stroke-width="1.3" fill="none"/>
<rect x="662.46" y="973.62" width="7.6" height="51.38" fill="#6fa786" stroke="#1f5a3a" stroke-width="0.9"/>
<path d="M678.54 963.44 V983.51" stroke="#8e8984" stroke-width="1.3" fill="none"/>
<rect x="674.64" y="971.51" width="7.8" height="1.41" fill="#6fa786" stroke="#1f5a3a" stroke-width="0.6"/>
<path d="M690.82 960.68 V982" stroke="#8e8984" stroke-width="1.3" fill="none"/>
<rect x="687.02" y="971.61" width="7.6" height="4.97" fill="#d95442" stroke="#5e1a15" stroke-width="0.9"/>
<path d="M703.1 956.91 V978.99" stroke="#8e8984" stroke-width="1.3" fill="none"/>
<path d="M698.9 976.36 H707.3" stroke="#1f5a3a" stroke-width="1.4" fill="none"/>
<path d="M715.37 973.97 V983.51" stroke="#8e8984" stroke-width="1.3" fill="none"/>
<rect x="711.47" y="976.03" width="7.8" height="1.41" fill="#d95442" stroke="#5e1a15" stroke-width="0.6"/>
<path d="M727.65 977.9 V992.2" stroke="#8e8984" stroke-width="1.3" fill="none"/>
<rect x="723.85" y="978.8" width="7.6" height="7.98" fill="#d95442" stroke="#5e1a15" stroke-width="0.9"/>
<path d="M739.93 978.4 V995.97" stroke="#8e8984" stroke-width="1.3" fill="none"/>
<rect x="736.03" y="987.99" width="7.8" height="1.91" fill="#d95442" stroke="#5e1a15" stroke-width="0.6"/>
<path d="M752.2 975.9 V994.21" stroke="#8e8984" stroke-width="1.3" fill="none"/>
<rect x="748.3" y="987.99" width="7.8" height="1.91" fill="#6fa786" stroke="#1f5a3a" stroke-width="0.6"/>
<path d="M764.48 982.67 V1034.85" stroke="#8e8984" stroke-width="1.3" fill="none"/>
<rect x="760.68" y="987.59" width="7.6" height="39.34" fill="#d95442" stroke="#5e1a15" stroke-width="0.9"/>
<path d="M776.76 1019.05 V1038.11" stroke="#8e8984" stroke-width="1.3" fill="none"/>
<path d="M772.56 1027.83 H780.96" stroke="#5e1a15" stroke-width="1.4" fill="none"/>
<path d="M789.03 1001.49 V1039.12" stroke="#8e8984" stroke-width="1.3" fill="none"/>
<path d="M784.83 1029.83 H793.24" stroke="#5e1a15" stroke-width="1.4" fill="none"/>
<path d="M801.31 1024.82 V1038.11" stroke="#8e8984" stroke-width="1.3" fill="none"/>
<rect x="797.41" y="1030.64" width="7.8" height="1.41" fill="#d95442" stroke="#5e1a15" stroke-width="0.6"/>
<path d="M813.59 1019.05 V1044.39" stroke="#8e8984" stroke-width="1.3" fill="none"/>
<rect x="809.79" y="1023.46" width="7.6" height="8.48" fill="#6fa786" stroke="#1f5a3a" stroke-width="0.9"/>
<path d="M825.87 1010.52 V1027.33" stroke="#8e8984" stroke-width="1.3" fill="none"/>
<rect x="822.07" y="1023.46" width="7.6" height="2.71" fill="#d95442" stroke="#5e1a15" stroke-width="0.9"/>
<path d="M838.14 1002.99 V1029.08" stroke="#8e8984" stroke-width="1.3" fill="none"/>
<rect x="834.34" y="1003.89" width="7.6" height="23.03" fill="#6fa786" stroke="#1f5a3a" stroke-width="0.9"/>
<path d="M850.42 995.46 V1013.53" stroke="#8e8984" stroke-width="1.3" fill="none"/>
<path d="M846.22 1003.49 H854.62" stroke="#5e1a15" stroke-width="1.4" fill="none"/>
<path d="M862.7 1003.49 V1022.31" stroke="#8e8984" stroke-width="1.3" fill="none"/>
<rect x="858.9" y="1004.64" width="7.6" height="9.24" fill="#d95442" stroke="#5e1a15" stroke-width="0.9"/>
<path d="M874.97 974.14 V1014.78" stroke="#8e8984" stroke-width="1.3" fill="none"/>
<rect x="871.17" y="979.31" width="7.6" height="34.57" fill="#6fa786" stroke="#1f5a3a" stroke-width="0.9"/>
<path d="M887.25 921.2 V979.41" stroke="#8e8984" stroke-width="1.3" fill="none"/>
<rect x="883.45" y="928.63" width="7.6" height="49.88" fill="#6fa786" stroke="#1f5a3a" stroke-width="0.9"/>
<path d="M899.53 913.93 V931.99" stroke="#8e8984" stroke-width="1.3" fill="none"/>
<rect x="895.73" y="923.86" width="7.6" height="3.97" fill="#6fa786" stroke="#1f5a3a" stroke-width="0.9"/>
<path d="M911.8 893.86 V927.23" stroke="#8e8984" stroke-width="1.3" fill="none"/>
<rect x="908" y="903.04" width="7.6" height="20.02" fill="#6fa786" stroke="#1f5a3a" stroke-width="0.9"/>
<path d="M924.08 893.86 V922.71" stroke="#8e8984" stroke-width="1.3" fill="none"/>
<rect x="920.28" y="899.53" width="7.6" height="2.71" fill="#6fa786" stroke="#1f5a3a" stroke-width="0.9"/>
<path d="M936.36 889.34 V916.19" stroke="#8e8984" stroke-width="1.3" fill="none"/>
<path d="M932.16 899.13 H940.56" stroke="#1f5a3a" stroke-width="1.4" fill="none"/>
<path d="M948.64 873.54 V905.65" stroke="#8e8984" stroke-width="1.3" fill="none"/>
<rect x="944.84" y="875.94" width="7.6" height="22.78" fill="#6fa786" stroke="#1f5a3a" stroke-width="0.9"/>
<path d="M960.91 835.15 V876.05" stroke="#8e8984" stroke-width="1.3" fill="none"/>
<rect x="957.11" y="843.08" width="7.6" height="32.07" fill="#6fa786" stroke="#1f5a3a" stroke-width="0.9"/>
<path d="M973.19 842.18 V872.53" stroke="#8e8984" stroke-width="1.3" fill="none"/>
<rect x="969.39" y="843.08" width="7.6" height="19.77" fill="#d95442" stroke="#5e1a15" stroke-width="0.9"/>
<path d="M985.47 837.41 V870.03" stroke="#8e8984" stroke-width="1.3" fill="none"/>
<rect x="981.67" y="849.85" width="7.6" height="13" fill="#6fa786" stroke="#1f5a3a" stroke-width="0.9"/>
<path d="M997.74 842.68 V863.5" stroke="#8e8984" stroke-width="1.3" fill="none"/>
<rect x="993.94" y="849.85" width="7.6" height="5.47" fill="#d95442" stroke="#5e1a15" stroke-width="0.9"/>
<path d="M1010.02 825.37 V861.24" stroke="#8e8984" stroke-width="1.3" fill="none"/>
<rect x="1006.22" y="842.08" width="7.6" height="13.25" fill="#6fa786" stroke="#1f5a3a" stroke-width="0.9"/>
<path d="M1022.3 802.04 V861.24" stroke="#8e8984" stroke-width="1.3" fill="none"/>
<rect x="1018.5" y="842.08" width="7.6" height="18.02" fill="#d95442" stroke="#5e1a15" stroke-width="0.9"/>
<path d="M1034.58 844.18 V871.78" stroke="#8e8984" stroke-width="1.3" fill="none"/>
<path d="M1030.38 860.99 H1038.78" stroke="#5e1a15" stroke-width="1.4" fill="none"/>
<path d="M1046.85 850.96 V887.59" stroke="#8e8984" stroke-width="1.3" fill="none"/>
<rect x="1043.05" y="858.13" width="7.6" height="2.96" fill="#6fa786" stroke="#1f5a3a" stroke-width="0.9"/>
<path d="M1059.13 842.68 V858.23" stroke="#8e8984" stroke-width="1.3" fill="none"/>
<rect x="1055.33" y="853.62" width="7.6" height="3.72" fill="#6fa786" stroke="#1f5a3a" stroke-width="0.9"/>
<path d="M1071.41 805.3 V854.47" stroke="#8e8984" stroke-width="1.3" fill="none"/>
<rect x="1067.61" y="808.21" width="7.6" height="44.61" fill="#6fa786" stroke="#1f5a3a" stroke-width="0.9"/>
<path d="M1083.68 774.69 V810.82" stroke="#8e8984" stroke-width="1.3" fill="none"/>
<rect x="1079.88" y="780.86" width="7.6" height="26.55" fill="#6fa786" stroke="#1f5a3a" stroke-width="0.9"/>
<path d="M1095.96 774.03 V791.59" stroke="#8e8984" stroke-width="1.3" fill="none"/>
<rect x="1092.16" y="779.7" width="7.6" height="3.46" fill="#d95442" stroke="#5e1a15" stroke-width="0.9"/>
<path d="M1108.24 706.29 V788.58" stroke="#8e8984" stroke-width="1.3" fill="none"/>
<rect x="1104.44" y="711.71" width="7.6" height="70.2" fill="#6fa786" stroke="#1f5a3a" stroke-width="0.9"/>
<path d="M1120.51 673.18 V732.89" stroke="#8e8984" stroke-width="1.3" fill="none"/>
<rect x="1116.71" y="679.85" width="7.6" height="31.06" fill="#6fa786" stroke="#1f5a3a" stroke-width="0.9"/>
<path d="M1132.79 654.36 V702.78" stroke="#8e8984" stroke-width="1.3" fill="none"/>
<rect x="1128.99" y="679.85" width="7.6" height="2.96" fill="#d95442" stroke="#5e1a15" stroke-width="0.9"/>
<path d="M1145.07 679.95 V724.61" stroke="#8e8984" stroke-width="1.3" fill="none"/>
<rect x="1141.27" y="683.61" width="7.6" height="4.47" fill="#d95442" stroke="#5e1a15" stroke-width="0.9"/>
<path d="M1157.34 665.15 V692.74" stroke="#8e8984" stroke-width="1.3" fill="none"/>
<rect x="1153.54" y="668.56" width="7.6" height="19.52" fill="#6fa786" stroke="#1f5a3a" stroke-width="0.9"/>
<path d="M1169.62 666.9 V702.78" stroke="#8e8984" stroke-width="1.3" fill="none"/>
<rect x="1165.82" y="668.56" width="7.6" height="8.48" fill="#d95442" stroke="#5e1a15" stroke-width="0.9"/>
<path d="M1181.9 660.13 V720.84" stroke="#8e8984" stroke-width="1.3" fill="none"/>
<rect x="1178.1" y="677.84" width="7.6" height="19.02" fill="#d95442" stroke="#5e1a15" stroke-width="0.9"/>
<path d="M1194.18 690.24 V730.88" stroke="#8e8984" stroke-width="1.3" fill="none"/>
<rect x="1190.38" y="697.66" width="7.6" height="2.96" fill="#d95442" stroke="#5e1a15" stroke-width="0.9"/>
<path d="M1206.45 688.23 V715.32" stroke="#8e8984" stroke-width="1.3" fill="none"/>
<rect x="1202.65" y="701.42" width="7.6" height="9.49" fill="#d95442" stroke="#5e1a15" stroke-width="0.9"/>
<path d="M1218.73 702.28 V750.95" stroke="#8e8984" stroke-width="1.3" fill="none"/>
<rect x="1214.93" y="707.19" width="7.6" height="3.72" fill="#6fa786" stroke="#1f5a3a" stroke-width="0.9"/>
<path d="M1231.01 697.76 V728.37" stroke="#8e8984" stroke-width="1.3" fill="none"/>
<rect x="1227.21" y="707.19" width="7.6" height="12.75" fill="#d95442" stroke="#5e1a15" stroke-width="0.9"/>
<path d="M1243.28 686.72 V724.61" stroke="#8e8984" stroke-width="1.3" fill="none"/>
<rect x="1239.48" y="694.9" width="7.6" height="26.29" fill="#6fa786" stroke="#1f5a3a" stroke-width="0.9"/>
<path d="M1255.56 663.89 V695" stroke="#8e8984" stroke-width="1.3" fill="none"/>
<rect x="1251.76" y="682.61" width="7.6" height="11.49" fill="#6fa786" stroke="#1f5a3a" stroke-width="0.9"/>
<path d="M1267.84 670.67 V691.49" stroke="#8e8984" stroke-width="1.3" fill="none"/>
<rect x="1264.04" y="682.61" width="7.6" height="2.71" fill="#d95442" stroke="#5e1a15" stroke-width="0.9"/>
<path d="M1280.11 663.89 V686.22" stroke="#8e8984" stroke-width="1.3" fill="none"/>
<rect x="1276.31" y="676.84" width="7.6" height="8.48" fill="#6fa786" stroke="#1f5a3a" stroke-width="0.9"/>
<path d="M1292.39 673.18 V700.27" stroke="#8e8984" stroke-width="1.3" fill="none"/>
<rect x="1288.59" y="676.84" width="7.6" height="15.26" fill="#d95442" stroke="#5e1a15" stroke-width="0.9"/>
<path d="M1304.67 688.23 V711.81" stroke="#8e8984" stroke-width="1.3" fill="none"/>
<rect x="1300.87" y="692.89" width="7.6" height="18.02" fill="#d95442" stroke="#5e1a15" stroke-width="0.9"/>
<path d="M1316.95 710.31 V738.4" stroke="#8e8984" stroke-width="1.3" fill="none"/>
<rect x="1313.05" y="711.61" width="7.8" height="2.16" fill="#d95442" stroke="#5e1a15" stroke-width="0.6"/>
<path d="M1329.22 707.04 V769.76" stroke="#8e8984" stroke-width="1.3" fill="none"/>
<rect x="1325.42" y="714.47" width="7.6" height="40.34" fill="#d95442" stroke="#5e1a15" stroke-width="0.9"/>
<path d="M1341.5 721.34 V765.25" stroke="#8e8984" stroke-width="1.3" fill="none"/>
<rect x="1337.7" y="725.01" width="7.6" height="29.81" fill="#6fa786" stroke="#1f5a3a" stroke-width="0.9"/>
<path d="M1353.78 682.71 V725.11" stroke="#8e8984" stroke-width="1.3" fill="none"/>
<rect x="1349.98" y="684.36" width="7.6" height="39.84" fill="#6fa786" stroke="#1f5a3a" stroke-width="0.9"/>
<path d="M1366.05 676.94 V708.8" stroke="#8e8984" stroke-width="1.3" fill="none"/>
<path d="M1361.85 682.71 H1370.25" stroke="#1f5a3a" stroke-width="1.4" fill="none"/>
<path d="M1378.33 673.93 V746.43" stroke="#8e8984" stroke-width="1.3" fill="none"/>
<rect x="1374.53" y="683.61" width="7.6" height="57.4" fill="#d95442" stroke="#5e1a15" stroke-width="0.9"/>
<path d="M1390.61 713.32 V798.11" stroke="#8e8984" stroke-width="1.3" fill="none"/>
<rect x="1386.81" y="737.8" width="7.6" height="3.21" fill="#6fa786" stroke="#1f5a3a" stroke-width="0.9"/>
<path d="M1402.88 718.33 V752.96" stroke="#8e8984" stroke-width="1.3" fill="none"/>
<rect x="1398.98" y="737.7" width="7.8" height="1.41" fill="#d95442" stroke="#5e1a15" stroke-width="0.6"/>
<path d="M1415.16 699.52 V742.67" stroke="#8e8984" stroke-width="1.3" fill="none"/>
<rect x="1411.36" y="704.94" width="7.6" height="34.07" fill="#6fa786" stroke="#1f5a3a" stroke-width="0.9"/>
<path d="M1427.44 703.28 V746.43" stroke="#8e8984" stroke-width="1.3" fill="none"/>
<rect x="1423.64" y="705.69" width="7.6" height="39.84" fill="#d95442" stroke="#5e1a15" stroke-width="0.9"/>
<path d="M1439.72 730.88 V776.54" stroke="#8e8984" stroke-width="1.3" fill="none"/>
<rect x="1435.92" y="746.33" width="7.6" height="15.26" fill="#d95442" stroke="#5e1a15" stroke-width="0.9"/>
<path d="M1451.99 725.36 V763.49" stroke="#8e8984" stroke-width="1.3" fill="none"/>
<rect x="1448.19" y="735.04" width="7.6" height="26.55" fill="#6fa786" stroke="#1f5a3a" stroke-width="0.9"/>
<path d="M1464.27 705.04 V744.68" stroke="#8e8984" stroke-width="1.3" fill="none"/>
<rect x="1460.47" y="709.7" width="7.6" height="24.54" fill="#6fa786" stroke="#1f5a3a" stroke-width="0.9"/>
<path d="M1476.55 691.99 V714.57" stroke="#8e8984" stroke-width="1.3" fill="none"/>
<rect x="1472.75" y="698.66" width="7.6" height="10.24" fill="#6fa786" stroke="#1f5a3a" stroke-width="0.9"/>
<path d="M1488.82 697.01 V730.38" stroke="#8e8984" stroke-width="1.3" fill="none"/>
<rect x="1485.02" y="698.66" width="7.6" height="14" fill="#d95442" stroke="#5e1a15" stroke-width="0.9"/>
<path d="M1501.1 703.28 V735.9" stroke="#8e8984" stroke-width="1.3" fill="none"/>
<path d="M1496.9 713.07 H1505.3" stroke="#1f5a3a" stroke-width="1.4" fill="none"/>
<path d="M1513.38 677.44 V714.57" stroke="#8e8984" stroke-width="1.3" fill="none"/>
<rect x="1509.58" y="679.85" width="7.6" height="33.32" fill="#6fa786" stroke="#1f5a3a" stroke-width="0.9"/>
<path d="M1525.65 676.94 V700.77" stroke="#8e8984" stroke-width="1.3" fill="none"/>
<rect x="1521.86" y="679.85" width="7.6" height="4.47" fill="#d95442" stroke="#5e1a15" stroke-width="0.9"/>
<path d="M1537.93 655.36 V686.97" stroke="#8e8984" stroke-width="1.3" fill="none"/>
<rect x="1534.13" y="681.6" width="7.6" height="3.21" fill="#6fa786" stroke="#1f5a3a" stroke-width="0.9"/>
<path d="M1550.21 620.49 V690.74" stroke="#8e8984" stroke-width="1.3" fill="none"/>
<rect x="1546.41" y="625.16" width="7.6" height="55.65" fill="#6fa786" stroke="#1f5a3a" stroke-width="0.9"/>
<path d="M1562.49 584.11 V625.26" stroke="#8e8984" stroke-width="1.3" fill="none"/>
<rect x="1558.69" y="585.02" width="7.6" height="39.34" fill="#6fa786" stroke="#1f5a3a" stroke-width="0.9"/>
<path d="M1574.76 547.24 V585.87" stroke="#8e8984" stroke-width="1.3" fill="none"/>
<rect x="1570.96" y="553.91" width="7.6" height="30.31" fill="#6fa786" stroke="#1f5a3a" stroke-width="0.9"/>
<path d="M1587.04 548.99 V579.85" stroke="#8e8984" stroke-width="1.3" fill="none"/>
<rect x="1583.14" y="553.81" width="7.8" height="2.41" fill="#d95442" stroke="#5e1a15" stroke-width="0.6"/>
<path d="M1599.32 532.68 V574.83" stroke="#8e8984" stroke-width="1.3" fill="none"/>
<rect x="1595.52" y="542.62" width="7.6" height="13.5" fill="#6fa786" stroke="#1f5a3a" stroke-width="0.9"/>
<path d="M1611.59 527.17 V567.05" stroke="#8e8984" stroke-width="1.3" fill="none"/>
<rect x="1607.79" y="531.33" width="7.6" height="10.49" fill="#6fa786" stroke="#1f5a3a" stroke-width="0.9"/>
<path d="M1623.87 517.13 V575.33" stroke="#8e8984" stroke-width="1.3" fill="none"/>
<rect x="1620.07" y="530.58" width="7.6" height="32.57" fill="#d95442" stroke="#5e1a15" stroke-width="0.9"/>
<path d="M1636.15 546.48 V573.58" stroke="#8e8984" stroke-width="1.3" fill="none"/>
<rect x="1632.35" y="563.94" width="7.6" height="5.97" fill="#d95442" stroke="#5e1a15" stroke-width="0.9"/>
<path d="M1648.42 548.99 V578.34" stroke="#8e8984" stroke-width="1.3" fill="none"/>
<rect x="1644.62" y="552.9" width="7.6" height="17.01" fill="#6fa786" stroke="#1f5a3a" stroke-width="0.9"/>
<path d="M1660.7 536.45 V578.34" stroke="#8e8984" stroke-width="1.3" fill="none"/>
<rect x="1656.9" y="551.9" width="7.6" height="14.25" fill="#d95442" stroke="#5e1a15" stroke-width="0.9"/>
<path d="M1672.98 523.9 V586.62" stroke="#8e8984" stroke-width="1.3" fill="none"/>
<rect x="1669.18" y="541.87" width="7.6" height="24.29" fill="#6fa786" stroke="#1f5a3a" stroke-width="0.9"/>
<path d="M1685.26 513.37 V547.24" stroke="#8e8984" stroke-width="1.3" fill="none"/>
<rect x="1681.46" y="536.85" width="7.6" height="4.97" fill="#6fa786" stroke="#1f5a3a" stroke-width="0.9"/>
<path d="M1697.53 523.15 V559.78" stroke="#8e8984" stroke-width="1.3" fill="none"/>
<rect x="1693.73" y="536.85" width="7.6" height="17.01" fill="#d95442" stroke="#5e1a15" stroke-width="0.9"/>
<path d="M1709.81 536.45 V577.34" stroke="#8e8984" stroke-width="1.3" fill="none"/>
<rect x="1706.01" y="554.66" width="7.6" height="4.22" fill="#d95442" stroke="#5e1a15" stroke-width="0.9"/>
<path d="M1722.09 550.1 V566.9" stroke="#8e8984" stroke-width="1.3" fill="none"/>
<path d="M1717.89 559.38 H1726.29" stroke="#5e1a15" stroke-width="1.4" fill="none"/>
<path d="M1734.36 546.83 V570.67" stroke="#8e8984" stroke-width="1.3" fill="none"/>
<path d="M1730.16 559.88 H1738.56" stroke="#1f5a3a" stroke-width="1.4" fill="none"/>
<path d="M1746.64 558.63 V633.39" stroke="#8e8984" stroke-width="1.3" fill="none"/>
<rect x="1742.84" y="560.28" width="7.6" height="6.73" fill="#d95442" stroke="#5e1a15" stroke-width="0.9"/>
<path d="M1758.92 566.9 V625.36" stroke="#8e8984" stroke-width="1.3" fill="none"/>
<rect x="1755.12" y="567.81" width="7.6" height="54.64" fill="#d95442" stroke="#5e1a15" stroke-width="0.9"/>
<path d="M1771.19 602.78 V640.91" stroke="#8e8984" stroke-width="1.3" fill="none"/>
<rect x="1767.39" y="615.97" width="7.6" height="6.48" fill="#6fa786" stroke="#1f5a3a" stroke-width="0.9"/>
<path d="M1783.47 593.75 V620.34" stroke="#8e8984" stroke-width="1.3" fill="none"/>
<rect x="1779.67" y="600.92" width="7.6" height="13.25" fill="#6fa786" stroke="#1f5a3a" stroke-width="0.9"/>
<path d="M1795.75 588.73 V618.33" stroke="#8e8984" stroke-width="1.3" fill="none"/>
<rect x="1791.95" y="600.92" width="7.6" height="14" fill="#d95442" stroke="#5e1a15" stroke-width="0.9"/>
<path d="M1808.03 589.98 V639.16" stroke="#8e8984" stroke-width="1.3" fill="none"/>
<rect x="1804.23" y="615.72" width="7.6" height="18.02" fill="#d95442" stroke="#5e1a15" stroke-width="0.9"/>
<path d="M1820.3 600.27 V651.45" stroke="#8e8984" stroke-width="1.3" fill="none"/>
<rect x="1816.5" y="609.95" width="7.6" height="23.03" fill="#6fa786" stroke="#1f5a3a" stroke-width="0.9"/>
<path d="M1832.58 597.76 V611.81" stroke="#8e8984" stroke-width="1.3" fill="none"/>
<rect x="1828.78" y="603.93" width="7.6" height="5.22" fill="#6fa786" stroke="#1f5a3a" stroke-width="0.9"/>
<path d="M1844.86 560.63 V603.53" stroke="#8e8984" stroke-width="1.3" fill="none"/>
<rect x="1841.06" y="569.81" width="7.6" height="32.82" fill="#6fa786" stroke="#1f5a3a" stroke-width="0.9"/>
<path d="M1857.13 553.11 V572.42" stroke="#8e8984" stroke-width="1.3" fill="none"/>
<rect x="1853.23" y="567.71" width="7.8" height="1.41" fill="#6fa786" stroke="#1f5a3a" stroke-width="0.6"/>
<path d="M1869.41 529.27 V569.41" stroke="#8e8984" stroke-width="1.3" fill="none"/>
<rect x="1865.61" y="532.18" width="7.6" height="34.82" fill="#6fa786" stroke="#1f5a3a" stroke-width="0.9"/>
<path d="M1881.69 526.01 V532.28" stroke="#8e8984" stroke-width="1.3" fill="none"/>
<rect x="1877.89" y="527.92" width="7.6" height="3.46" fill="#6fa786" stroke="#1f5a3a" stroke-width="0.9"/>
</g>
<path d="M103.5 46 V1249.5" stroke="#d6cabf" stroke-width="1" fill="none"/>
<path d="M103.5 1249.5 V1295.5" stroke="#8c8580" stroke-width="1" fill="none"/>
<path d="M2435.5 46 V1295.5" stroke="#3c3a39" stroke-width="1.1" fill="none"/>
<rect x="17" y="273" width="86.5" height="2" fill="#26262a"/>
<rect x="103.5" y="273.5" width="2439.5" height="1.5" fill="#2e2e32"/>
<rect x="17" y="1248.9" width="2526" height="1.3" fill="#4a4846"/>
<g font-family='"Liberation Sans", Arial, sans-serif'>
<text x="17.5" y="33.4" font-size="20" fill="#d8d8d8" text-anchor="start" font-weight="normal" textLength="669" lengthAdjust="spacing" stroke="#d8d8d8" stroke-width="0.3">bitcoinwallah published on TradingView.com, May 12, 2025 07:34 UTC</text>
<text x="118" y="79.7" font-size="20.3" fill="#4d4c4b" text-anchor="start" font-weight="normal" textLength="134.5" lengthAdjust="spacing" stroke="#4d4c4b" stroke-width="0.3">RSI (14, close)</text>
<text x="266.5" y="79.7" font-size="20.3" fill="#7e57c2" text-anchor="start" font-weight="normal" textLength="54" lengthAdjust="spacing" stroke="#7e57c2" stroke-width="0.3">65.29</text>
<text x="333.5" y="79.7" font-size="20.3" fill="#fdd835" text-anchor="start" font-weight="normal" textLength="54.5" lengthAdjust="spacing" stroke="#fdd835" stroke-width="0.3">53.86</text>
<text x="118" y="309" font-size="20.3" fill="#4d4c4b" text-anchor="start" font-weight="normal" textLength="347" lengthAdjust="spacing" stroke="#4d4c4b" stroke-width="0.3">Bitcoin / U.S. Dollar · 1W · BITSTAMP</text>
<text x="478" y="309" font-size="20.3" textLength="88.5" lengthAdjust="spacing" stroke-width="0.3"><tspan fill="#4d4c4b" stroke="#4d4c4b">O</tspan><tspan fill="#20603c" stroke="#20603c">104,138</tspan></text>
<text x="580" y="309" font-size="20.3" textLength="89.5" lengthAdjust="spacing" stroke-width="0.3"><tspan fill="#4d4c4b" stroke="#4d4c4b">H</tspan><tspan fill="#20603c" stroke="#20603c">105,706</tspan></text>
<text x="682.5" y="309" font-size="20.3" textLength="85.5" lengthAdjust="spacing" stroke-width="0.3"><tspan fill="#4d4c4b" stroke="#4d4c4b">L</tspan><tspan fill="#20603c" stroke="#20603c">103,745</tspan></text>
<text x="781" y="309" font-size="20.3" textLength="91" lengthAdjust="spacing" stroke-width="0.3"><tspan fill="#4d4c4b" stroke="#4d4c4b">C</tspan><tspan fill="#20603c" stroke="#20603c">105,309</tspan></text>
<text x="885" y="309" font-size="20.3" fill="#20603c" text-anchor="start" font-weight="normal" textLength="149" lengthAdjust="spacing" stroke="#20603c" stroke-width="0.3">+1,180 (+1.13%)</text>
<text x="118" y="337.8" font-size="20.3" fill="#4d4c4b" text-anchor="start" font-weight="normal" textLength="252.5" lengthAdjust="spacing" stroke="#4d4c4b" stroke-width="0.3">EMA (50, close, 0, EMA, 5)</text>
<text x="384.5" y="337.8" font-size="20.3" fill="#f23645" text-anchor="start" font-weight="normal" textLength="63.5" lengthAdjust="spacing" stroke="#f23645" stroke-width="0.3">81,280</text>
<text x="118" y="366.8" font-size="20.3" fill="#4d4c4b" text-anchor="start" font-weight="normal" textLength="264.5" lengthAdjust="spacing" stroke="#4d4c4b" stroke-width="0.3">EMA (200, close, 0, EMA, 5)</text>
<text x="397" y="366.8" font-size="20.3" fill="#2962ff" text-anchor="start" font-weight="normal" textLength="64.7" lengthAdjust="spacing" stroke="#2962ff" stroke-width="0.3">52,472</text>
<text x="118" y="396" font-size="20.3" fill="#4d4c4b" text-anchor="start" font-weight="normal" textLength="85" lengthAdjust="spacing" stroke="#4d4c4b" stroke-width="0.3">Vol · BTC</text>
<text x="217" y="396" font-size="20.3" fill="#26a69a" text-anchor="start" font-weight="normal" textLength="36" lengthAdjust="spacing" stroke="#26a69a" stroke-width="0.3">528</text>
<text x="2451" y="100.6" font-size="18.6" fill="#5a5856" text-anchor="start" font-weight="normal" textLength="51" lengthAdjust="spacing" stroke="#5a5856" stroke-width="0.3">80.00</text>
<text x="2451" y="161.6" font-size="18.6" fill="#5a5856" text-anchor="start" font-weight="normal" textLength="51" lengthAdjust="spacing" stroke="#5a5856" stroke-width="0.3">60.00</text>
<text x="2451" y="222.6" font-size="18.6" fill="#5a5856" text-anchor="start" font-weight="normal" textLength="51" lengthAdjust="spacing" stroke="#5a5856" stroke-width="0.3">40.00</text>
<text x="2451" y="339.6" font-size="18.6" fill="#5a5856" text-anchor="start" font-weight="normal" textLength="75" lengthAdjust="spacing" stroke="#5a5856" stroke-width="0.3">180,000</text>
<text x="2451" y="456.9" font-size="18.6" fill="#5a5856" text-anchor="start" font-weight="normal" textLength="75" lengthAdjust="spacing" stroke="#5a5856" stroke-width="0.3">130,000</text>
<text x="2451" y="516.4" font-size="18.6" fill="#5a5856" text-anchor="start" font-weight="normal" textLength="75" lengthAdjust="spacing" stroke="#5a5856" stroke-width="0.3">110,000</text>
<text x="2451" y="570.6" font-size="18.6" fill="#5a5856" text-anchor="start" font-weight="normal" textLength="63" lengthAdjust="spacing" stroke="#5a5856" stroke-width="0.3">95,000</text>
<text x="2451" y="617.9" font-size="18.6" fill="#5a5856" text-anchor="start" font-weight="normal" textLength="63" lengthAdjust="spacing" stroke="#5a5856" stroke-width="0.3">83,000</text>
<text x="2451" y="674.3" font-size="18.6" fill="#5a5856" text-anchor="start" font-weight="normal" textLength="63" lengthAdjust="spacing" stroke="#5a5856" stroke-width="0.3">71,000</text>
<text x="2451" y="740.2" font-size="18.6" fill="#5a5856" text-anchor="start" font-weight="normal" textLength="63" lengthAdjust="spacing" stroke="#5a5856" stroke-width="0.3">59,000</text>
<text x="2451" y="789.9" font-size="18.6" fill="#5a5856" text-anchor="start" font-weight="normal" textLength="63" lengthAdjust="spacing" stroke="#5a5856" stroke-width="0.3">51,500</text>
<text x="2451" y="850.3" font-size="18.6" fill="#5a5856" text-anchor="start" font-weight="normal" textLength="63" lengthAdjust="spacing" stroke="#5a5856" stroke-width="0.3">43,500</text>
<text x="2451" y="903.9" font-size="18.6" fill="#5a5856" text-anchor="start" font-weight="normal" textLength="63" lengthAdjust="spacing" stroke="#5a5856" stroke-width="0.3">37,500</text>
<text x="2451" y="966.6" font-size="18.6" fill="#5a5856" text-anchor="start" font-weight="normal" textLength="63" lengthAdjust="spacing" stroke="#5a5856" stroke-width="0.3">31,500</text>
<text x="2451" y="1015.6" font-size="18.6" fill="#5a5856" text-anchor="start" font-weight="normal" textLength="63" lengthAdjust="spacing" stroke="#5a5856" stroke-width="0.3">27,500</text>
<text x="2451" y="1071.6" font-size="18.6" fill="#5a5856" text-anchor="start" font-weight="normal" textLength="63" lengthAdjust="spacing" stroke="#5a5856" stroke-width="0.3">23,500</text>
<text x="2451" y="1120.2" font-size="18.6" fill="#5a5856" text-anchor="start" font-weight="normal" textLength="63" lengthAdjust="spacing" stroke="#5a5856" stroke-width="0.3">20,500</text>
<text x="2451" y="1173.3" font-size="18.6" fill="#5a5856" text-anchor="start" font-weight="normal" textLength="63" lengthAdjust="spacing" stroke="#5a5856" stroke-width="0.3">17,700</text>
<text x="2451" y="1221" font-size="18.6" fill="#5a5856" text-anchor="start" font-weight="normal" textLength="63" lengthAdjust="spacing" stroke="#5a5856" stroke-width="0.3">15,500</text>
<rect x="2436.1" y="275.2" width="106.9" height="54.3" fill="#f2e0d0"/>
<rect x="2442" y="282.2" width="95.3" height="42.3" rx="6" fill="#ffffff"/>
<text x="2457" y="310" font-size="20" fill="#131313" text-anchor="start" font-weight="normal" textLength="42" lengthAdjust="spacing" stroke="#131313" stroke-width="0.3">USD</text>
<path d="M2435.5 382 H2532 a3 3 0 0 1 3 3 V406.3 a3 3 0 0 1 -3 3 H2435.5 Z" fill="#000"/>
<text x="2451.8" y="401.6" font-size="18.6" fill="#ffffff" text-anchor="start" font-weight="normal" textLength="74.5" lengthAdjust="spacing" stroke="#ffffff" stroke-width="0.3">152,034</text>
<path d="M2348 514 H2435.5 V540.5 H2348 a3 3 0 0 1 -3 -3 V517 a3 3 0 0 1 3 -3 Z" fill="#6ea685"/>
<text x="2352" y="533.6" font-size="18.6" fill="#f4f7f4" text-anchor="start" font-weight="normal" textLength="76" lengthAdjust="spacing" stroke="#f4f7f4" stroke-width="0.3">BTCUSD</text>
<path d="M2435.5 514 H2532 a3 3 0 0 1 3 3 V559.3 a3 3 0 0 1 -3 3 H2435.5 Z" fill="#6ea685"/>
<text x="2451.5" y="533.1" font-size="18.6" fill="#ffffff" text-anchor="start" font-weight="normal" textLength="74.5" lengthAdjust="spacing" stroke="#ffffff" stroke-width="0.3">105,309</text>
<text x="2450.5" y="554.6" font-size="18.6" fill="#dcebe1" text-anchor="start" font-weight="normal" textLength="62" lengthAdjust="spacing" stroke="#dcebe1" stroke-width="0.3">6d 17h</text>
<text x="89" y="345.6" font-size="18.6" fill="#5a5856" text-anchor="end" font-weight="normal" stroke="#5a5856" stroke-width="0.3">1</text>
<text x="89" y="416" font-size="18.6" fill="#5a5856" text-anchor="end" font-weight="normal" stroke="#5a5856" stroke-width="0.3">1</text>
<text x="89" y="486.4" font-size="18.6" fill="#5a5856" text-anchor="end" font-weight="normal" stroke="#5a5856" stroke-width="0.3">1</text>
<text x="89" y="556.8" font-size="18.6" fill="#5a5856" text-anchor="end" font-weight="normal" stroke="#5a5856" stroke-width="0.3">1</text>
<text x="89" y="627.2" font-size="18.6" fill="#5a5856" text-anchor="end" font-weight="normal" stroke="#5a5856" stroke-width="0.3">0</text>
<text x="89" y="697.6" font-size="18.6" fill="#5a5856" text-anchor="end" font-weight="normal" stroke="#5a5856" stroke-width="0.3">0</text>
<text x="89" y="768" font-size="18.6" fill="#5a5856" text-anchor="end" font-weight="normal" stroke="#5a5856" stroke-width="0.3">0</text>
<text x="89" y="838.4" font-size="18.6" fill="#5a5856" text-anchor="end" font-weight="normal" stroke="#5a5856" stroke-width="0.3">−0</text>
<text x="89" y="908.8" font-size="18.6" fill="#5a5856" text-anchor="end" font-weight="normal" stroke="#5a5856" stroke-width="0.3">−0</text>
<text x="89" y="979.2" font-size="18.6" fill="#5a5856" text-anchor="end" font-weight="normal" stroke="#5a5856" stroke-width="0.3">−1</text>
<text x="89" y="1049.6" font-size="18.6" fill="#5a5856" text-anchor="end" font-weight="normal" stroke="#5a5856" stroke-width="0.3">−1</text>
<text x="89" y="1120" font-size="18.6" fill="#5a5856" text-anchor="end" font-weight="normal" stroke="#5a5856" stroke-width="0.3">−1</text>
<text x="89" y="1190.4" font-size="18.6" fill="#5a5856" text-anchor="end" font-weight="normal" stroke="#5a5856" stroke-width="0.3">−1</text>
<text x="161.9" y="1279" font-size="18.4" fill="#5a5856" text-anchor="middle" font-weight="normal" letter-spacing="0.35" stroke="#5a5856" stroke-width="0.3">Sep</text>
<text x="272.9" y="1279" font-size="18.4" fill="#5a5856" text-anchor="middle" font-weight="normal" letter-spacing="0.35" stroke="#5a5856" stroke-width="0.3">Nov</text>
<text x="370.7" y="1279" font-size="18.5" fill="#4f4e4d" text-anchor="middle" font-weight="bold" textLength="47.8" lengthAdjust="spacing" stroke="#4f4e4d" stroke-width="0.2">2023</text>
<text x="481.9" y="1279" font-size="18.4" fill="#5a5856" text-anchor="middle" font-weight="normal" letter-spacing="0.35" stroke="#5a5856" stroke-width="0.3">Mar</text>
<text x="579.9" y="1279" font-size="18.4" fill="#5a5856" text-anchor="middle" font-weight="normal" letter-spacing="0.35" stroke="#5a5856" stroke-width="0.3">May</text>
<text x="689.9" y="1279" font-size="18.4" fill="#5a5856" text-anchor="middle" font-weight="normal" letter-spacing="0.35" stroke="#5a5856" stroke-width="0.3">Jul</text>
<text x="800.9" y="1279" font-size="18.4" fill="#5a5856" text-anchor="middle" font-weight="normal" letter-spacing="0.35" stroke="#5a5856" stroke-width="0.3">Sep</text>
<text x="910.9" y="1279" font-size="18.4" fill="#5a5856" text-anchor="middle" font-weight="normal" letter-spacing="0.35" stroke="#5a5856" stroke-width="0.3">Nov</text>
<text x="1009.7" y="1279" font-size="18.5" fill="#4f4e4d" text-anchor="middle" font-weight="bold" textLength="47.8" lengthAdjust="spacing" stroke="#4f4e4d" stroke-width="0.2">2024</text>
<text x="1119.9" y="1279" font-size="18.4" fill="#5a5856" text-anchor="middle" font-weight="normal" letter-spacing="0.35" stroke="#5a5856" stroke-width="0.3">Mar</text>
<text x="1230.9" y="1279" font-size="18.4" fill="#5a5856" text-anchor="middle" font-weight="normal" letter-spacing="0.35" stroke="#5a5856" stroke-width="0.3">May</text>
<text x="1328.9" y="1279" font-size="18.4" fill="#5a5856" text-anchor="middle" font-weight="normal" letter-spacing="0.35" stroke="#5a5856" stroke-width="0.3">Jul</text>
<text x="1438.9" y="1279" font-size="18.4" fill="#5a5856" text-anchor="middle" font-weight="normal" letter-spacing="0.35" stroke="#5a5856" stroke-width="0.3">Sep</text>
<text x="1549.9" y="1279" font-size="18.4" fill="#5a5856" text-anchor="middle" font-weight="normal" letter-spacing="0.35" stroke="#5a5856" stroke-width="0.3">Nov</text>
<text x="1659.7" y="1279" font-size="18.5" fill="#4f4e4d" text-anchor="middle" font-weight="bold" textLength="47.8" lengthAdjust="spacing" stroke="#4f4e4d" stroke-width="0.2">2025</text>
<text x="1757.9" y="1279" font-size="18.4" fill="#5a5856" text-anchor="middle" font-weight="normal" letter-spacing="0.35" stroke="#5a5856" stroke-width="0.3">Mar</text>
<text x="1868.9" y="1279" font-size="18.4" fill="#5a5856" text-anchor="middle" font-weight="normal" letter-spacing="0.35" stroke="#5a5856" stroke-width="0.3">May</text>
<text x="1978.9" y="1279" font-size="18.4" fill="#5a5856" text-anchor="middle" font-weight="normal" letter-spacing="0.35" stroke="#5a5856" stroke-width="0.3">Jul</text>
<text x="2077.9" y="1279" font-size="18.4" fill="#5a5856" text-anchor="middle" font-weight="normal" letter-spacing="0.35" stroke="#5a5856" stroke-width="0.3">Sep</text>
<text x="2187.9" y="1279" font-size="18.4" fill="#5a5856" text-anchor="middle" font-weight="normal" letter-spacing="0.35" stroke="#5a5856" stroke-width="0.3">Nov</text>
<text x="2298.7" y="1279" font-size="18.5" fill="#4f4e4d" text-anchor="middle" font-weight="bold" textLength="47.8" lengthAdjust="spacing" stroke="#4f4e4d" stroke-width="0.2">2026</text>
<text x="2396.9" y="1279" font-size="18.4" fill="#5a5856" text-anchor="middle" font-weight="normal" letter-spacing="0.35" stroke="#5a5856" stroke-width="0.3">Mar</text>
<circle cx="61.2" cy="1273" r="16" fill="#efe5de"/>
<text x="61.2" y="1279.7" font-size="18" fill="#565553" text-anchor="middle" font-weight="normal" stroke="#565553" stroke-width="0.8">Z</text>
<circle cx="2489.7" cy="1273" r="16" fill="#efe5de"/>
<text x="2489.7" y="1279.7" font-size="18" fill="#565553" text-anchor="middle" font-weight="normal" stroke="#565553" stroke-width="0.8">A</text>
<g fill="#dcdcdc"><path d="M16.9 1316.3 H29.9 V1332.4 H23.3 V1322.7 H16.9 Z"/><circle cx="35.4" cy="1319.2" r="3.35"/><path d="M42.4 1316.3 H50.2 L44 1332.4 H36.2 Z"/></g>
<text x="56.1" y="1334" font-size="21.8" fill="#dcdcdc" text-anchor="start" font-weight="normal" textLength="125.4" lengthAdjust="spacing" stroke="#dcdcdc" stroke-width="0.5">TradingView</text>
</g></svg></body></html>
